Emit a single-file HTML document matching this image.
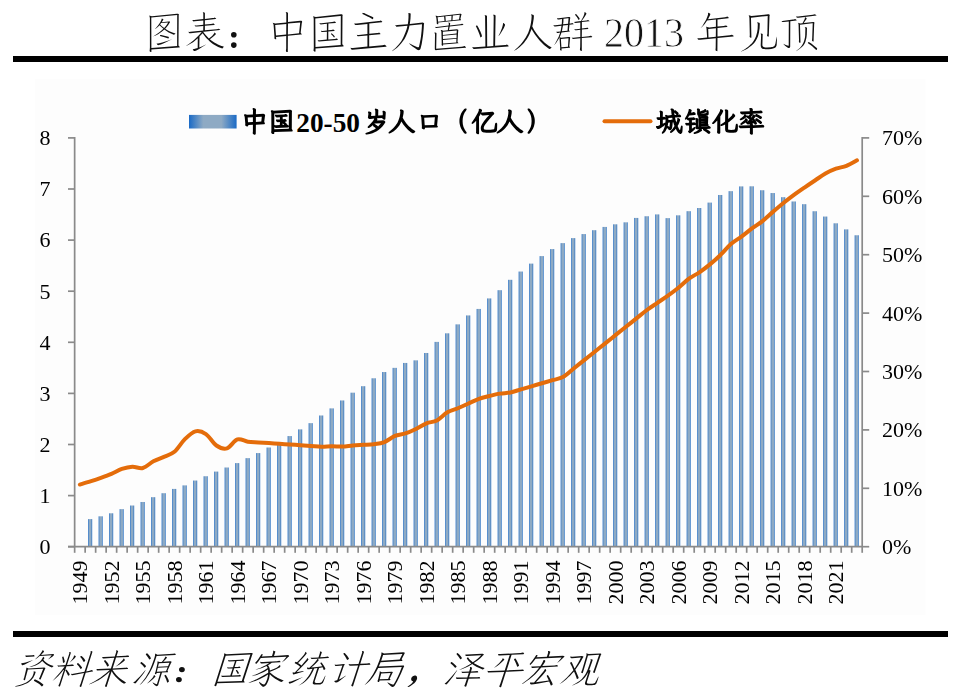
<!DOCTYPE html><html><head><meta charset="utf-8"><style>html,body{margin:0;padding:0;background:#fff;}svg{display:block;}</style></head><body>
<svg width="960" height="694" viewBox="0 0 960 694">
<defs><linearGradient id="bg" x1="0" x2="1" y1="0" y2="0"><stop offset="0" stop-color="#1f6dc8"/><stop offset="0.3" stop-color="#8eaac4"/><stop offset="0.7" stop-color="#8eaac4"/><stop offset="1" stop-color="#1f6cc4"/></linearGradient>
<filter id="gray" x="-5%" y="-5%" width="110%" height="110%"><feColorMatrix type="saturate" values="0"/></filter><linearGradient id="lg" x1="0" x2="1" y1="0" y2="0"><stop offset="0" stop-color="#1a6ac6"/><stop offset="0.3" stop-color="#8eaac4"/><stop offset="0.68" stop-color="#8eaac4"/><stop offset="1" stop-color="#1a6ac6"/></linearGradient></defs>
<rect width="960" height="694" fill="#fff"/>
<rect x="35" y="79" width="890.6" height="535.8" fill="#fdfdfd"/>
<rect x="13" y="56" width="935" height="6" fill="#000"/>
<rect x="13" y="631" width="935" height="6" fill="#000"/>
<path fill="#111" d="M149.1,15.5 149.4,16.1 149.6,16.7 149.8,17.4 149.9,18.2 149.9,47.6 149.8,49 149.6,50.9 149.7,51.2 149.9,51.5 150.3,51.8 150.6,51.9 151,52 151.3,51.9 151.4,51.5 151.4,49.4 179,47.4 179.9,47.2 179.9,47 179.6,46.7 178.5,45.4 178.7,15.7 178.7,15.3 179,14.7 178.7,14.3 178.4,14 178,13.8 177.5,13.8 176.9,13.8 151.9,16.2 150,15.7ZM151.4,48 151.3,17.5 177.2,15 177.1,46ZM153.1,36.5 154.4,36.1 155.6,35.5 158.1,34.2 160.5,32.6 161.7,31.7 164.3,29.6 166.5,31.1 168.7,32.4 171,33.5 173.2,34.5 173.7,34.7 174.2,34.6 174.9,34.2 175.5,33.6 172.4,32.5 169.9,31.4 167.5,30.2 165.2,28.8 166.7,27 168.3,24.9 169.6,22.8 170.1,22.3 170.1,21.9 169.9,21.6 169.6,21.5 169.2,21.4 168.6,21.4 161.7,22.2 163,20.3 163.2,19.8 163.4,19.3 163.3,19.1 163,18.9 161.8,18.4 161.6,19.2 161.3,20.2 160.8,21.3 160.1,22.5 158.9,24.3 157.8,25.8 156.1,27.8 155,29 154.8,29.3 155.6,28.8 156.9,27.8 158.1,26.7 159.5,25.2 161.4,27.1 163.4,28.8 161.2,30.8 159,32.6 156.5,34.3 153.5,36.2ZM168.2,22.5 166.8,24.7 165.9,26 164.2,28.1 161.9,26.2 160.1,24.4 161.1,23.1ZM156.6,43.5 157,44.2 157.6,44.9 158.2,45.2 158.8,45.1 160.9,44.4 164.4,42.9 170.5,40.1 172.2,39.3 166.3,41.2 162.2,42.4 159.1,43.2 158,43.4ZM168.3,38.4 168.6,38.2 168.7,37.9 168.9,37.3 168.8,37.1 168.4,36.8 164.2,35.7 161.2,35 160.3,34.9 160.2,35 160.1,35.3 159.9,35.9 160,36 164.5,37.2ZM185.8,46 187.1,45.5 188.6,44.8 191.7,43.1 193.1,42.2 194.6,41 197.8,38.3 197.7,48.1 194.1,49.1 192.7,49.3 193.2,50.1 193.8,50.9 194.2,51.1 194.6,51.1 195.8,50.7 196.9,50.2 199.1,49 201.4,47.6 203.8,46.1 205.4,44.9 205.9,44.4 202.4,46.2 199.3,47.4 199.5,36.8 199.5,36.6 202.6,33.3 203,33.8 204.3,35.6 205.6,37.2 207,38.7 208.4,40.1 209.8,41.5 211.3,42.7 212.9,43.9 214.6,45 216.4,46 218.2,46.9 220.2,47.7 222.3,48.5 222.6,48.3 223.1,47.7 223.8,46.6 221.5,45.9 219.6,45.2 217.9,44.4 216.2,43.6 214.7,42.8 213.2,41.8 211.7,40.8 210.4,39.7 209.9,39.2 211.9,37.8 213.4,36.6 215.1,35.1 215.8,34.2 215.9,34.1 215.8,33.7 215.2,32.9 214.9,32.6 214.6,32.4 214.2,33.2 213.7,34 213.1,34.8 212.1,35.9 210.5,37.3 209.3,38.3 208.9,38.5 205.9,35.3 204.6,33.8 203.1,31.8 204.1,31.8 219.8,30.1 220.3,30 220.2,29.7 219.9,29.4 219.2,28.9 218.7,28.7 217.9,28.9 216.6,29.2 204.9,30.3 204.9,25.8 214.1,24.9 214.7,24.7 214.6,24.4 214.3,24.1 213.6,23.6 213.1,23.4 212.2,23.7 210.9,23.9 204.9,24.5 204.9,20.2 215.7,19.1 216.2,18.9 216,18.5 215.4,18 214.6,17.6 213.8,17.9 212.5,18.1 204.9,18.9 204.9,12.9 204.7,12.7 204.3,12.5 203.3,12.2 202.8,12.1 203.1,13 203.3,13.8 203.3,19.1 194.3,20.1 193.8,20.1 192.3,20 192.6,20.6 193,21.1 193.2,21.3 193.7,21.4 194.6,21.3 203.3,20.4 203.3,24.7 196.6,25.4 196,25.4 194.5,25.3 195.4,26.6 195.9,26.6 197.3,26.6 203.3,26 203.2,30.5 190.4,31.8 189.8,31.9 188.3,31.7 188.8,32.5 189.1,33 189.4,33.2 189.8,33.2 190.7,33.2 201.7,32 200.9,33 199.3,34.8 197.6,36.5 195.8,38.2 194,39.9 192.1,41.5 190.2,43 188.1,44.5ZM272.7,22.8 273.3,24 273.6,25.1 274.4,35.9 274.4,38.3 274.6,38.7 274.9,39 275.5,39.2 275.9,39.2 276.2,39.2 276.2,38.8 276,37 286.2,36.1 286.2,48.2 285.9,51 286.1,51.5 286.6,51.9 287.2,52 287.7,52 287.8,51.9 287.8,51.4 287.9,35.8 300.9,34.6 301.8,34.5 301.8,34.3 301.6,33.9 300.7,32.8 300.7,32.5 301.8,22.9 302.2,22 302,21.3 301.8,21 301.4,20.8 301,20.7 300.3,20.7 288,22.1 288,13 287.9,12.7 287.5,12.5 286.9,12.3 285.7,12.1 286.2,13.2 286.3,14.1 286.3,22.4 275.3,23.6 273.5,23ZM288,23.6 300.2,22.4 299.1,32.9 299.1,33.3 287.9,34.4ZM275.2,25.1 286.3,23.9 286.2,34.6 276,35.5ZM313,16.3 313.5,17.4 313.6,17.9 313.7,18.9 313.8,47.4 313.7,48.8 313.5,50.3 313.6,50.8 313.8,51.1 314.3,51.5 315.2,51.7 315.4,51.6 315.5,51.1 315.5,48.4 342.8,46.4 343.7,46.3 343.7,46 343.6,45.7 343,45 342.3,44.3 342.5,16.1 342.7,15.2 342.4,14.6 342.1,14.4 341.7,14.2 340.8,14.2 315.9,17 315.8,17 313.9,16.4ZM340.8,15.9 340.7,44.9 315.5,46.9 315.3,18.4 340.2,15.9ZM317.7,40.2 318,40.9 318.4,41.3 318.7,41.4 319.2,41.5 337.4,39.9 337.8,39.7 337.8,39.4 337.5,39 336.9,38.6 336.4,38.4 335,38.9 334.4,39 328.3,39.5 328.3,31.5 334.2,31 334.6,30.8 334.5,30.4 334.3,30.1 333.6,29.7 333.2,29.5 332.3,29.8 331.5,30 328.3,30.3 328.4,23.6 335.5,22.9 335.9,22.8 336,22.7 335.9,22.5 335.4,21.9 334.9,21.5 334.5,21.4 333.3,21.8 332.1,22.1 321.5,23.2 320.2,23.3 319.4,23.1 319.7,23.7 320.1,24.1 320.3,24.3 320.6,24.4 326.9,23.8 326.9,30.5 322.7,31 320.9,30.8 321.1,31.3 321.4,31.7 321.8,32 322.3,32.1 326.9,31.7 326.8,39.6 319.7,40.3 318.5,40.3ZM330.9,33.9 332.9,36 334,37.4 334.1,37.5 334.4,37.2 334.8,36.7 334.6,36.2 333.8,35.3 332.5,34 331.7,33.4 331.5,33.3 331.3,33.3 331.2,33.4ZM350.5,47.7 351,49 351.3,49.4 351.7,49.6 351.9,49.7 352.5,49.7 386,46.8 386.5,46.6 386.5,46.3 386,45.8 385.5,45.3 384.6,44.8 383.6,45.1 382.4,45.3 369.2,46.5 369.2,35.2 380.1,34.2 380.6,34.1 380.4,33.7 379.9,33.2 379.4,32.8 379,32.6 378.2,32.9 377,33.1 369.3,33.8 369.3,23.6 381.8,22.3 382.3,22.1 382.3,21.9 382.1,21.6 381.2,20.8 380.6,20.6 379.5,20.9 378.4,21.1 356.6,23.5 355.1,23.6 354.2,23.4 354.5,24.2 354.8,24.6 355.3,25 355.8,25 357.4,24.9 367.4,23.9 367.4,34 358.8,34.9 357.7,34.9 356.8,34.8 357.1,35.5 357.4,35.9 357.8,36.2 358.3,36.3 367.4,35.5 367.4,46.6 352.9,47.9 351.7,47.9ZM373.1,17.3 371.6,16.5 369.3,15.4 366,13.9 364.1,13.1 363.3,12.9 362.9,12.8 362.7,13 362.4,13.4 362.4,13.9 362.5,14.1 365.1,15.2 367.5,16.4 369.8,17.6 372.2,19.1 372.5,19.2 372.7,19.2 372.9,18.9 373.2,18.5 373.3,18 373.3,17.6ZM391.5,51.4 392.9,50.7 394.3,49.8 396.1,48.4 397.6,47.2 399.5,45.3 401.3,43.3 403,41.1 404.5,38.9 405.8,36.5 406.9,34 407.9,31.4 408.8,28.7 409.5,25.5 422,24.3 421.8,27.8 421.6,30.8 421,36.4 420.6,39 420.1,41.6 419.6,44.1 419,46.7 418.8,47 418.6,47.2 418.2,47.3 418,47.3 417.5,47.2 413.5,45.4 409.7,43.4 409,43.2 409.2,43.5 410.1,44.4 412.5,46.4 414.8,48.1 417.2,49.8 418,50.1 418.7,50.2 419.3,50 419.8,49.7 420.4,49 420.7,48.1 421.7,43.9 422.5,39.1 423.1,34.9 423.4,31.8 423.7,28.4 423.9,24.7 424.1,23.7 424.1,23.4 424,23.2 423.7,22.9 423.3,22.7 422.7,22.6 409.8,23.9 410.2,21 410.5,18.6 410.6,16.2 410.7,13.8 410.6,13.6 409.9,13.3 408.9,12.9 408.2,12.9 408.5,13.6 408.5,14.2 408.5,17.3 408.3,20.5 408,22.7 407.8,24.2 397.4,25.1 396.2,25.2 395.2,25 395.6,25.7 396,26.3 396.3,26.7 396.7,26.8 407.4,25.8 407.3,26.4 406.6,29.2 405.2,33.1 403.5,37 402.5,38.9 401.4,40.9 400.1,42.7 398.7,44.5 397.1,46.2 395.5,47.9 393.7,49.5ZM434.4,32.4 434.8,33.5 435,34.4 434.8,48.6 434.9,49.6 435.1,49.9 435.3,50.1 435.9,50.2 437,50 465.6,47.7 466.1,47.6 465.7,47 465.2,46.5 464.7,46.1 464.4,46 463,46.4 461.5,46.7 436.2,48.7 436.5,33.4 436.4,33 436.1,32.8 435.1,32.5ZM435,26.8 435.3,27.3 435.6,27.7 436,27.9 436.4,27.9 448.4,26.6 447.8,30.2 443.3,30.7 441.6,30.1 441,29.9 440.7,29.9 441.2,31.1 441.4,32.2 441.7,42.2 441.7,43.5 441.6,44.8 441.6,45.1 442,45.4 442.6,45.7 442.9,45.7 443.1,45.6 443.1,44.6 458,43.3 458.5,43.2 458.2,42.7 457.5,41.9 458.2,30.8 458.4,30.1 458.3,30 457.9,29.5 457.4,29.4 456.9,29.3 449,30.1 449.7,26.5 463.1,24.9 463.4,24.8 463.1,24.3 462.6,23.9 462.4,23.8 462,23.7 461.2,24 460.3,24.2 449.9,25.4 450.2,23.4 450,23.1 449.3,22.8 448.8,22.6 448.4,22.6 448.7,23.3 448.8,23.9 448.8,24.6 448.6,25.5 436.6,26.9 435.7,26.9ZM442.9,34.9 442.9,31.7 456.8,30.4 456.6,33.5ZM443,39.1 442.9,35.7 456.6,34.4 456.5,37.9ZM443.1,43.6 443,40 456.4,38.7 456.3,42.5ZM435.4,15.7 435.9,16.6 436.3,17.7 436.7,21.6 436.7,23.4 436.9,23.7 437.2,24.1 437.5,24.2 437.9,24.2 438.2,24.2 438.3,24 438.2,22.6 460.6,20.2 461.2,20.1 460.4,18.9 461.3,15.1 461.6,14.4 461.3,14.1 460.8,13.8 460.4,13.7 460,13.7 438,16.2 436.2,15.8ZM459,19.5 452.5,20.2 452.8,15.5 459.8,14.7ZM451.3,20.3 445.8,20.9 445.4,16.3 451.5,15.7ZM444.5,21.1 438.2,21.8 437.6,17.3 444.1,16.5ZM472.3,47.1 472.7,48 473.1,48.5 473.3,48.7 473.8,49 474.4,49 508.1,46.5 508.7,46.3 508.6,45.9 508.3,45.5 507.3,44.7 506.9,44.5 505.8,44.9 505,45.1 495.1,45.8 495.6,15.8 495.5,15.5 495.3,15.2 494.9,15 494.3,14.8 493.5,14.7 493,14.7 493.5,15.5 493.7,16.4 493.3,45.9 487.2,46.4 487,16.2 486.8,15.8 486.5,15.6 485.6,15.3 484.6,15.2 484.5,15.2 485,16 485.1,16.9 485.4,46.5 474.8,47.2 473.5,47.2ZM498.4,36.1 499.1,35.5 499.9,34.6 501.2,32.6 503.6,28.5 504.3,27.1 504.8,25.8 505.1,24.9 505,24.5 504.6,24.1 504,23.5 503.4,23.1 503,22.9 503,22.9 503,24 502.7,25.4 502,28 500.1,32.7 499.2,34.5ZM475.8,26.1 477.7,30.1 478.7,32.4 479.6,34.7 480.3,37 480.6,37.4 480.9,37.3 481.2,37.1 481.8,36.6 482,36.4 482,36.2 481.5,34.2 480.4,31.6 478.8,28.3 478,26.7 477.4,25.8 477,25.4 476.9,25.4 476.5,25.6ZM513.8,50.9 515.6,50 516.6,49.4 518.5,48 519.5,47.2 521.6,45.2 522.7,44.2 524.1,42.7 525.3,41.1 526.5,39.5 527.6,37.8 528.6,35.9 529.6,34 530.4,32.1 531.6,28.9 532.1,29.9 534.1,33.2 535.1,34.8 537.4,37.8 539.8,40.7 542,43 544,44.9 546.6,47.1 548.2,48.3 549.4,49 550,48.9 550.5,48.6 551.1,48.1 551.7,47.5 548.6,45.7 547.3,44.8 544.7,42.7 542.2,40.3 539.6,37.5 537.2,34.6 535.1,31.5 534.1,29.9 532.3,26.6 532.3,26.3 532.9,23.7 533.3,21.2 533.7,18.7 533.9,16.1 533.8,15.6 533.7,15.3 533,14.8 531.9,14.4 531.3,14.3 531,14.3 531.5,15.4 531.6,16.1 531.6,16.8 531.4,19.7 531,22.5 530.5,25.2 529.8,27.9 529,30.4 528.1,32.9 526.9,35.2 525.7,37.5 524.5,39.3 523.3,41.1 522,42.8 520.6,44.4 519.1,46 517.6,47.6 515.9,49.1ZM571.8,37.6 572,38 572.5,38.7 572.7,38.8 573.1,38.9 580.3,38.3 580.2,46.6 580.1,47.8 579.9,49.7 580.2,50.2 580.7,50.8 581.2,51 581.6,51 581.8,50.9 581.8,50.3 581.8,38.1 591.8,37.2 592.3,37 592.2,36.7 591.7,36.2 591.1,35.8 590.7,35.7 589.6,36 588.8,36.2 581.8,36.9 581.9,29.6 588.1,29 588.5,28.9 588.2,28.4 587.8,28 587.5,27.7 587.2,27.6 586.9,27.7 586.1,28 585.6,28.1 581.9,28.5 581.9,22.1 589.1,21.3 589.6,21.2 589.5,21 589.2,20.7 588.5,20.2 588,19.9 587.3,20.2 586.7,20.4 581.5,21.1 582.9,19.3 584,17.8 585,16.3 586.3,14 586.4,13.5 586.3,13.3 585.8,12.8 585,12.3 584.5,12.1 584.4,13.2 584.2,14.3 583.7,15.8 582.9,17.6 580.9,21.1 575.4,21.8 574.8,21.9 573.9,21.7 574.2,22.3 574.4,22.6 574.8,22.8 575.4,22.9 580.3,22.4 580.3,28.7 576.2,29.2 575,29.2 574.3,29.1 574.5,29.5 574.9,29.9 575.2,30.2 575.5,30.3 576.6,30.2 580.3,29.8 580.3,37 573.6,37.7 572.4,37.7ZM575.9,14 575.2,14.4 575,14.6 575,14.8 576,15.9 576.8,17 577.6,18.3 578.5,19.8 578.6,19.9 578.7,19.9 579.1,19.7 579.4,19.3 579.7,18.9 579.7,18.7 579,17.6 577.8,16 576.6,14.5ZM553.9,45.4 555.2,44 556.4,42.5 557.5,40.8 559.5,37.6 559.6,37.6 559.6,39.3 560.2,48.1 560,49.9 560.1,50.1 560.3,50.3 561,50.6 561.3,50.7 561.5,50.6 561.6,50.2 561.5,48.4 569.6,47.7 570.2,47.6 570,47.2 569.3,46.2 570,38.7 570.2,37.7 570,37.3 569.7,37.1 569.4,37 568.6,37 561.2,37.8 559.6,37.3 560.6,35 561.5,32.5 569.9,31.6 569.6,31.1 568.9,30.3 569.5,24.7 573.3,24.3 573.7,24.2 573.6,24 573.4,23.7 572.7,23.2 572.3,23 570.9,23.4 569.6,23.6 570.1,18.7 570.3,17.9 570.2,17.6 569.7,17.1 569.2,17 568.7,17 558.7,18.3 557.6,18.3 556.9,18.2 557.5,19.2 557.7,19.4 557.9,19.4 559,19.4 562,19.1 561.9,21.9 561.8,23.6 561.6,24.6 555.2,25.3 554.1,25.3 553.4,25.2 553.6,25.7 553.9,26.1 554.2,26.3 554.5,26.4 555.5,26.4 561.5,25.7 561,29.1 560.5,31.5 557.5,31.8 556.8,31.8 556.2,31.7 556.5,32.2 557.1,32.9 558.4,32.9 560.1,32.6 559.9,33.4 559.3,35.1 558.7,36.7 557.9,38.3 556,42ZM563.5,18.8 568,18.3 568.6,18.3 568.5,18.8 568.1,23.3 568.1,23.8 563.1,24.3 563.4,22ZM568.5,38.3 568,46.7 561.4,47.2 560.9,39ZM567.9,25.6 567.5,30.8 561.9,31.3 563,25.5 568,25ZM697.3,38.2 697.6,38.8 698,39.4 698.5,39.7 699.1,39.8 700.4,39.7 715.8,38.2 715.7,47.2 715.5,50.1 715.7,50.5 716,50.8 716.7,51.1 717.3,51.2 717.4,51 717.4,50.8 717.5,38 733.2,36.4 733.7,36.2 733.6,35.9 733.3,35.6 732.4,35 731.9,34.7 730.8,35.1 729.7,35.3 717.5,36.5 717.5,28 727,27 727.5,26.9 727.3,26.5 726.8,26 726.3,25.6 725.9,25.4 724.6,25.7 723.7,25.9 717.5,26.6 717.5,19.4 728.3,18.2 728.9,18.1 728.7,17.8 728.1,17 727.6,16.7 727.4,16.6 726,17 724.9,17.2 708,19.2 709.9,15.4 710.4,14.1 710.2,13.8 709.8,13.5 709.1,13.1 708,12.8 708.1,14 707.9,14.9 707.3,16.7 706.2,19.4 705.5,20.7 703.8,23.6 702.9,25.2 700.6,28.3 702.7,26.3 704.1,24.7 705.6,22.8 707.1,20.6 715.9,19.6 715.9,26.8 709.2,27.6 707.1,27 706.5,26.8 706.1,26.8 706.3,27.5 706.4,28.1 706.6,29.7 707.1,37.6 699.7,38.3 698.5,38.3ZM708.5,37.4 708.2,29 715.9,28.2 715.8,36.7ZM760.5,33.4 760.8,33.8 760.9,34.2 761.1,35.2 760.7,45.3 760.8,46.1 760.9,46.7 761.1,47.3 761.3,47.7 761.6,48.1 762,48.4 762.4,48.7 763.2,49 764.1,49.1 765.5,49.2 768.8,49.2 771.1,48.9 773.1,48.6 774.5,48.1 775,47.8 775.7,47.3 776.1,46.6 776.4,46 776.6,45.3 776.7,44.4 776.8,42.4 776.9,39.9 776.8,38.2 776.7,36.6 776.4,37.7 775.8,41.6 775.4,43.7 775.1,44.5 774.8,45.3 774.4,45.9 774.1,46.2 773.5,46.5 772.6,46.9 771.7,47.1 770.8,47.2 767,47.4 765.3,47.4 764.4,47.2 763.6,47 763,46.6 762.6,46 762.4,45.2 762.4,44.6 762.7,34.4 762.7,34.1 762.6,33.9 762.1,33.7 761.1,33.5ZM748.7,15.3 749.2,16.8 749.4,17.9 749.8,34.9 749.6,36.8 749.7,37 749.9,37.3 750.3,37.6 750.7,37.8 751.2,37.8 751.3,37.7 751.4,37.6 751.4,36.7 751,17.7 767.7,15.9 767.4,33.6 767,35.5 767.1,35.7 767.2,36 767.7,36.4 768.3,36.6 768.5,36.7 768.7,36.6 768.8,36.2 768.8,35.6 769.5,16 769.7,15.4 769.8,15.1 769.7,14.9 769.6,14.8 769.2,14.5 768.9,14.3 768.1,14.3 751.5,16.1 749.7,15.4 748.9,15.3ZM740.6,51.6 741.4,51.4 742.5,50.9 745.9,49.4 747.7,48.4 749.5,47.1 751.3,45.7 753.2,43.9 754.2,42.9 755.1,41.7 755.9,40.6 756.6,39.3 757.2,38.1 757.8,36.8 758.2,35.4 759,32.2 759.6,28.2 759.8,23.7 759.7,23.3 759.3,22.8 758.3,22.4 757.5,22.2 757.1,22.2 757.6,23.3 757.7,23.9 757.8,24.5 757.7,26.8 757.6,28.9 757.2,31.7 756.5,34.6 755.9,36.6 755,38.5 753.9,40.4 752.7,42.2 751.7,43.4 750.5,44.6 749.3,45.8 747.9,47 746.4,48.1 744.8,49.2 743,50.2 740.9,51.4ZM808.7,42 808.3,42.3 807.9,42.8 807.8,43 808,43.3 810.2,44.8 812.2,46.3 814,48 816.2,50 816.3,50.1 816.4,50.1 816.9,49.5 817.2,48.9 817.1,48.5 816.8,48.1 814.6,46.2 811.3,43.6 809.6,42.4 809.2,42.2ZM796,16.6 796.4,17.3 796.8,17.6 797.2,17.8 797.9,17.8 798.7,17.8 804.8,17 816.5,15.6 816.4,15.3 816.1,15 815.3,14.4 814.9,14.2 813.8,14.6 812.9,14.8 798.1,16.6 797.1,16.6ZM804.9,17.1 804.9,18.2 804.5,19.5 804.2,20.1 802.5,23.2 800.4,23.5 798.8,22.9 798.1,22.7 798.5,23.9 798.6,25.7 799,39.4 798.9,41.9 799,42.2 799.2,42.5 799.8,42.7 800.3,42.7 800.4,42.6 800.5,42.4 800,24.7 812.2,23.3 812.7,23.3 812.7,23.8 812.2,38.1 812,40.6 812.2,41 812.6,41.3 813.3,41.5 813.5,41.5 813.6,41.4 813.7,37.1 814.2,23.7 814.5,23 814.5,22.8 814.3,22.5 813.9,22.1 813.6,22 813.3,22 803.7,23.1 805.8,20.1 806.4,19.2 806.7,18.6 806.7,18.5 806.6,18.3 806.4,18ZM795.5,51.4 797.2,50.5 798.7,49.6 800.1,48.6 801.3,47.6 802.4,46.5 803.4,45.4 804.2,44.2 804.9,43 805.4,41.7 805.8,40.3 806.2,38.8 806.5,37.3 806.8,34.5 806.9,30.9 807,27.9 807,27.7 806.8,27.6 805.6,27.2 804.8,27.1 805.2,27.9 805.4,28.5 805.3,31.6 805.2,35.3 805,37.2 804.5,39.5 803.9,41.6 803.4,42.8 802.5,44.5 801.9,45.5 801.1,46.5 800.3,47.4 799.3,48.4 798.3,49.3ZM781.6,20.9 781.8,21.5 782.1,21.8 782.4,22 782.8,22.1 783.6,22.1 788.8,21.5 788.7,45.8 787.3,45.5 785.9,45 783.2,43.8 784.8,45.4 786.7,47 787.5,47.6 788.2,47.9 788.6,48.1 789,48.1 789.5,47.9 789.8,47.5 790.1,47 790.2,46.4 790.3,21.2 796.3,20.5 796.6,20.4 796.7,20.3 796.4,19.9 796.1,19.6 795.6,19.2 795,19 793.9,19.4 793,19.6 782.3,20.9Z"/>
<circle cx="233.8" cy="34.7" r="2.8" fill="#111"/><circle cx="233.8" cy="45.1" r="2.8" fill="#111"/>
<text x="604" y="47.3" font-family="Liberation Serif" font-size="42" fill="#111" stroke="#fff" stroke-width="0.8" textLength="80" lengthAdjust="spacingAndGlyphs" filter="url(#gray)">2013</text>
<rect x="189" y="114.9" width="47.6" height="13.6" fill="url(#lg)"/>
<path fill="#000" d="M252.9,131.3 252.7,133.3 252.9,133.7 253.2,134.1 253.8,134.5 254.4,134.7 254.9,134.7 255.4,134.5 255.7,134.1 255.8,133.4 255.9,124.7 263.9,124.3 264.4,124.2 264.6,124 264.8,123.8 264.9,123.3 264.9,123 264.7,122.7 264.2,121.9 264.9,116.4 265.1,115.7 265.1,115.2 264.8,114.6 264.4,114.2 264.2,114 263.9,113.9 263.4,113.8 255.9,114.3 256,109.7 255.9,109.2 255.5,108.7 255.1,108.4 254.4,108.2 253.5,108 253.2,108.1 252.9,108.2 252.7,108.3 252.6,108.7 252.6,109.1 252.9,109.9 253,110.2 252.9,114.4 247,114.8 245.6,114.3 244.8,114.3 244.5,114.3 244.2,114.6 244.1,115.1 244.1,115.5 244.5,116.3 244.7,116.9 245.3,123.4 245.2,125 245.3,125.4 245.5,125.7 245.9,126 246.5,126.3 246.9,126.4 247.4,126.4 247.8,126.2 248.1,125.9 248.3,125.5 248.3,125 252.9,124.8ZM261.8,116.7 261.3,121.6 255.9,121.9 255.9,117.1ZM252.9,117.2 252.9,122 248,122.2 247.7,117.6ZM291.2,131.6 292,131.6 292.3,131.5 292.6,131.1 292.7,130.7 292.6,130.3 292.5,129.9 291.8,129 291.9,112 292,111.7 292,111.4 291.9,110.8 291.6,110.4 291.3,110.1 290.9,109.9 290.4,109.8 289.8,109.8 273.8,110.7 272.5,110.3 271.9,110.2 271.4,110.2 271.1,110.4 270.9,110.7 270.8,111 270.9,111.4 271.2,112.2 271.3,112.9 271.4,130.2 271.3,131.1 271.2,132.2 271.3,132.9 271.6,133.3 272,133.7 272.6,133.9 273.2,134.1 273.7,134 274.1,133.7 274.3,133.2 274.3,132ZM274.3,125.2 274.3,113.4 288.9,112.7 288.8,126.2 288.5,125.6 288.1,125.1 287.5,124.7 286.9,124.6 286.9,124.2 286.6,123.6 285.9,122.9 284.8,121.8 285.6,121.8 286,121.7 286.4,121.5 286.5,121.4 286.7,121 286.7,120.7 286.6,120.3 286.4,119.9 285.7,119.3 285.3,119.1 285,119 284.6,119 283.7,119.3 282.7,119.3 282.7,117.1 286.6,116.8 287.2,116.7 287.5,116.3 287.6,116.1 287.6,115.8 287.5,115.4 287.4,115.1 287,114.7 286.5,114.3 286.2,114.1 285.8,114.1 285.4,114.1 284.1,114.4 277.3,114.8 276.6,114.7 275.7,114.6 275.5,114.7 275.2,114.8 275,115.3 275,115.8 275.5,116.6 275.7,116.9 276.1,117.2 276.4,117.3 276.8,117.4 279.9,117.2 279.9,119.5 278,119.6 276.5,119.4 276.1,119.6 275.9,119.9 275.9,120.2 276.1,120.8 276.3,121.3 276.7,121.8 277.1,122 277.8,122.2 279.9,122.1 279.8,125.1 276.1,125.3 275.4,125.2 274.7,125.1ZM282.7,122 282.7,122 282.7,122ZM282.7,123.2 283.8,124.4 284.3,125 282.6,125ZM288.8,126.6 288.8,128.8 274.3,129.2 274.3,127.1 274.7,127.5 275,127.7 275.4,127.8 276,127.9 287.7,127.4 288.1,127.3 288.5,127.1 288.6,127ZM373.1,125.1 373,125.7 373.2,126.2 375.9,128.3 374.3,129.4 371.9,130.6 369.3,131.7 366.4,132.7 365.9,132.9 365.6,133.2 365.4,133.5 365.4,133.9 365.7,134.3 366.1,134.5 366.8,134.6 369.8,134 372.5,133.2 375.1,132.1 376.3,131.4 378.5,130 380.6,128.3 382.4,126.4 384.1,124.3 385.2,122.6 385.4,122 385.3,121.8 385.1,121.4 384.7,120.9 384.2,120.6 383.7,120.4 383.3,120.3 377,120.6 377.3,120 377.4,119.5 377.3,119 376.9,118.3 382.3,117.9 382.3,118.3 382.5,118.8 382.7,119 383.1,119.3 383.7,119.6 384.3,119.7 384.6,119.7 385,119.5 385.3,119.2 385.4,118.8 385.8,112.4 385.6,111.9 385.3,111.5 384.5,111 383.5,110.7 383,110.7 382.7,110.9 382.6,111.1 382.5,111.4 382.5,111.6 382.7,112.4 382.8,113.2 382.7,115.2 378.2,115.5 378.3,110.2 378.3,110 378,109.5 377.7,109.3 377.2,109 376.1,108.7 375.6,108.6 375.3,108.7 375,108.8 374.9,109 374.8,109.4 374.9,109.8 375.2,110.5 375.3,110.8 375.3,115.7 371.1,116 371.4,113 371.3,112.7 371.2,112.4 370.9,112.1 370.6,111.9 369.4,111.4 368.9,111.4 368.5,111.4 368.1,111.7 368,112 368,112.3 368.3,113.2 368.4,113.9 368.1,116.1 367.9,117.4 368,118 368.2,118.3 368.5,118.6 368.9,118.8 369.3,119 369.7,119.1 370.6,118.9 374.1,118.6 374,119.2 373.8,119.8 372.8,121.3 370.8,123.6 367.9,126.4 367.6,127 367.7,127.5 367.9,127.8 368.2,127.9 368.5,128 369,127.9 369.9,127.4 371.3,126.5ZM374.3,124 374.8,123.5 381,123.2 379.8,124.6 378.1,126.4 377.1,125.5 375.9,124.7 374.9,124.1 374.6,124ZM401.4,121.6 403.3,124.4 405.6,127.2 408.1,129.9 409.4,131.1 410.8,132.2 412.1,133.1 412.5,133.3 412.8,133.3 413.3,133.3 413.8,133 414.5,132.6 415,132.2 415.2,131.8 415.3,131.5 415.2,131.3 415.1,131 414.7,130.7 413.2,129.8 412,129 410.4,127.6 409.1,126.5 407.9,125.2 406.4,123.4 405,121.5 403.7,119.6 402.7,117.8 403.1,115.8 403.5,113.7 403.7,111.6 403.6,110.9 403.3,110.3 402.7,109.9 401.8,109.6 400.9,109.4 400.5,109.4 400.2,109.6 400.1,109.7 399.9,110.1 399.9,110.5 400.3,111.3 400.3,111.8 400.2,113.7 399.9,115.4 399.6,117.1 399.1,118.6 398.6,120.1 397.7,122.2 397,123.4 396.2,124.6 395.4,125.7 394.1,127.3 393.2,128.3 391.8,129.6 389.2,131.7 388.8,132.1 388.6,132.4 388.5,132.7 388.6,133.1 388.8,133.4 389.2,133.5 389.6,133.5 390.7,133.1 391.7,132.5 393.8,131.2 394.9,130.3 396.1,129.3 397.7,127.6 399.3,125.5 400.3,123.8ZM421.9,126.4 421.8,128.1 421.9,128.4 422.2,128.7 422.9,129.1 423.9,129.4 424.3,129.3 424.5,129.2 424.8,128.9 424.9,128.5 424.9,127.8 436.4,127.5 437.1,127.4 437.5,127.3 437.8,126.9 437.8,126.4 437.6,126 437.1,125.4 437.9,116.8 438.1,116.3 438.1,116 437.9,115.6 437.6,115.3 437.2,115 436.9,114.9 436.3,114.8 423.6,115.3 422.5,114.9 421.8,114.8 421.3,114.8 421,115 420.8,115.2 420.7,115.7 420.8,116 421.1,116.7 421.3,117.5ZM434.9,117.3 434.2,125 424.7,125.3 424.2,117.8ZM465.5,133.8 465.9,133.7 466.3,133.5 466.6,133.2 466.6,132.6 466.4,132.1 465.8,131.3 464.7,129.6 463.9,127.8 463.5,126.9 463,124.9 462.8,123.9 462.7,122.5 462.6,121.1 462.7,119.7 462.8,118.3 463.2,116.3 463.5,115.3 463.9,114.3 464.7,112.5 465.8,110.9 466.4,110.1 466.6,109.6 466.6,109 466.3,108.6 465.9,108.4 465.5,108.4 465.2,108.5 464.7,108.7 464,109.3 463.5,109.9 462.3,111.5 461.1,113.6 460.3,115.7 459.8,117.6 459.5,119 459.4,121.1 459.5,123.1 459.8,124.6 460.3,126.5 461.1,128.5 462.3,130.6 463.5,132.3 464,132.9 464.7,133.5 465.2,133.7ZM476.2,120.7 476.1,129.8 476.1,131.5 476,132.6 476.1,133 476.3,133.3 476.7,133.8 477.2,134 477.9,134.2 478.5,134.2 478.8,133.9 479,133.7 479.1,133.3 479,116.7 480.1,114.9 480.8,113.4 481.2,114.5 481.6,115 482,115.3 482.5,115.5 483.4,115.4 489.3,114.9 486.7,117.8 484.1,121.1 482.3,123.8 481.6,124.9 481,126.5 480.8,127.3 480.8,128.1 480.8,129 481,129.9 481.3,130.7 481.8,131.4 482.4,131.9 483.1,132.3 483.9,132.5 484.8,132.6 486.2,132.7 490.6,132.7 493.1,132.5 494.9,132.2 495.9,131.8 496.2,131.5 496.5,131.2 496.8,130.8 496.9,130.3 497,129.8 497.1,128.8 497.2,124.3 497.1,123.4 496.8,122.9 496.5,122.7 496.2,122.7 495.9,122.7 495.7,122.9 495.5,123.1 495.2,123.6 495,124.2 494.3,128.4 494,129.3 492.1,129.6 490.5,129.7 487.8,129.8 486,129.7 484.9,129.5 484.4,129.4 484.2,129.2 483.9,128.9 483.8,128.3 483.8,127.6 483.8,127.1 484.2,126.2 484.8,125.1 485.6,123.9 487.7,121.2 489.6,119 492.4,115.8 494,114.2 494.2,113.7 494.2,113.4 494.1,113.1 493.7,112.4 493.2,112 492.8,111.8 492.2,111.8 482.7,112.6 481.7,112.5 481.2,112.7 482,110.7 482,110.3 481.9,110 481.6,109.6 480.9,109.1 480,108.8 479.7,108.8 479.3,108.8 479.1,108.9 478.8,109.2 478.7,109.6 478.8,110.3 478.7,110.8 478.1,112.3 477.3,113.7 475.7,116.6 474.5,118.6 473.3,120.3 471.8,122.4 471.6,122.9 471.6,123.2 471.6,123.5 471.9,123.7 472.2,123.9 472.6,123.8 472.9,123.7 473.5,123.3 474.2,122.7ZM509.5,121.6 511.4,124.4 513.7,127.2 516.2,129.9 517.5,131.1 518.9,132.2 520.2,133.1 520.6,133.3 520.9,133.3 521.4,133.3 521.9,133 522.6,132.6 523.1,132.2 523.3,131.8 523.4,131.5 523.3,131.3 523.2,131 522.8,130.7 521.3,129.8 520.1,129 518.5,127.6 517.2,126.5 516,125.2 514.5,123.4 513.1,121.5 511.8,119.6 510.8,117.8 511.2,115.8 511.6,113.7 511.8,111.6 511.7,110.9 511.4,110.3 510.8,109.9 509.9,109.6 509,109.4 508.6,109.4 508.3,109.6 508.2,109.7 508,110.1 508,110.5 508.4,111.3 508.4,111.8 508.3,113.7 508,115.4 507.7,117.1 507.2,118.6 506.7,120.1 505.8,122.2 505.1,123.4 504.3,124.6 503.5,125.7 502.2,127.3 501.3,128.3 499.9,129.6 497.3,131.7 496.9,132.1 496.7,132.4 496.6,132.7 496.7,133.1 496.9,133.4 497.3,133.5 497.7,133.5 498.8,133.1 499.8,132.5 501.9,131.2 503,130.3 504.2,129.3 505.8,127.6 507.4,125.5 508.4,123.8ZM528.7,133.8 529,133.7 529.5,133.5 530.2,132.9 530.7,132.3 531.9,130.6 533.1,128.5 533.9,126.5 534.4,124.6 534.7,123.1 534.8,121.1 534.7,119 534.4,117.6 533.9,115.7 533.1,113.6 531.9,111.5 530.7,109.9 530.2,109.3 529.5,108.7 529,108.5 528.7,108.4 528.3,108.4 527.9,108.6 527.6,109 527.6,109.6 527.8,110.1 528.4,110.9 529.5,112.5 530.3,114.3 530.7,115.3 531,116.3 531.4,118.3 531.5,119.7 531.6,121.1 531.5,122.5 531.4,123.9 531.2,124.9 530.7,126.9 530.3,127.8 529.5,129.6 528.4,131.3 527.8,132.1 527.6,132.6 527.6,133.2 527.9,133.5 528.3,133.7ZM660,125.1 658,125.9 657.5,126 656.5,126 656.3,126.1 656,126.4 655.9,126.8 656,127.2 656.7,128.2 657.4,128.9 657.8,129.1 658.3,129.1 658.9,129 659.5,128.7 660.9,127.9 662.6,126.8 663.9,125.9 665.1,124.8 664.6,126.9 663.9,128.8 663.2,130.4 662.1,132.1 661.9,132.5 661.8,132.9 661.8,133.2 662,133.5 662.2,133.7 662.7,133.8 663.2,133.6 663.8,133.1 664.5,132.4 665.3,131.4 665.9,130.4 666.6,129 667.1,127.9 667.6,128.5 668.2,129.2 668.8,129.7 669.4,130 669.8,130.2 670.2,130.2 670.8,130 671.2,129.6 671.7,128.9 672,128.3 672.2,127.2 672.5,125 672.7,122.4 673.3,122.3 673.9,124.4 674.5,126 673.8,127.1 672.9,128.4 670.2,131.5 670,131.8 670,132.1 670,132.4 670.2,132.7 670.5,132.8 671,132.9 671.5,132.7 672.2,132.2 672.9,131.7 674,130.8 675,129.7 675.8,128.8 676.6,130.5 677.6,132 678.5,133 679.3,133.6 679.8,133.8 680.2,133.9 680.7,133.9 681.1,133.8 681.4,133.6 681.7,133.3 682,132.9 682.2,132.4 682.5,130.9 682.6,128.6 682.7,126.7 682.6,126.3 682.4,125.9 682.1,125.6 681.8,125.5 681.6,125.6 681.3,125.7 681.1,126 680.8,126.7 680,130.3 679.5,129.7 678.9,128.8 677.6,126.1 678.6,124.2 679.5,121.9 680.1,120.2 680.1,119.7 680,119.3 679.8,119 679.5,118.7 678.7,118.2 678.1,118 677.8,118 677.5,118.1 677.3,118.4 677.2,118.6 677.3,119.5 677.2,120.1 676.3,122.5 675.5,119.8 675,117.6 679.8,117.3 680.3,117.2 680.8,117 681.1,116.7 681.1,116.3 681,115.8 680.8,115.4 680.5,115 679.7,114.6 679.1,114.5 678.1,114.7 678.5,114.1 678.7,113.6 678.6,113.2 678.2,112.6 677,111.5 675.6,110.3 675.2,110.2 674.7,110.2 674.3,110.4 674.1,110.7 674,109.9 673.8,109.4 673.4,109 673,108.8 672.1,108.6 671.2,108.6 670.7,108.8 670.5,109.2 670.5,109.5 670.6,109.7 671,110.2 671.2,110.6 671.4,113.2 671.7,115.1 667.9,115.4 666.5,114.9 666,114.8 665.7,114.9 665.4,115 665.2,115.2 665.1,115.7 665.4,116.7 665.5,117.5 664.8,116.9 664.3,116.7 663.9,116.7 662.8,117 662.9,112.2 662.8,111.7 662.6,111.4 662.3,111.2 661.7,110.9 660.6,110.6 660.1,110.7 659.6,110.9 659.5,111.3 659.5,111.6 659.9,112.5 660,112.9 660,117.2 658.4,117.3 657.4,117.2 657,117.2 656.7,117.4 656.5,117.7 656.5,117.9 656.6,118.3 656.9,119.1 657.2,119.5 657.6,119.8 658.2,120 658.7,120.1 660,120ZM667.7,125.9 668,124.3 668.2,122.7 669.9,122.5 669.7,125 669.4,127 668.2,126.1ZM665.4,122.6 665,122.7 664.7,122.8 662.8,123.8 662.8,119.8 665,119.6 665.6,119.5ZM676.5,114.9 674.6,115 674.2,112.6 675.3,113.6ZM668.4,120.1 668.4,118 672.2,117.8 672.6,119.7 672.3,119.6 671.9,119.6 670.8,119.9ZM686.7,119.1 686.9,119.4 687.2,119.8 687.8,120.3 688.3,120.4 689.1,120.4 689.1,122.8 687,122.9 686,122.8 685.7,122.9 685.4,123 685.3,123.2 685.2,123.5 685.2,123.9 685.4,124.3 685.7,124.8 686,125.2 686.5,125.5 687.2,125.6 689.1,125.5 689.1,130.4 688.3,130.7 688.1,130.9 688,131.3 688.1,131.6 688.3,132.1 688.7,132.6 689.2,133.1 689.6,133.2 690.1,133.2 690.6,133 691.1,132.6 692.2,131.8 694.2,129.9 695.1,128.9 695.5,128.2 695.6,127.9 695.6,127.7 695.4,127.2 695.1,127 694.6,127 694,127.2 691.9,128.7 691.9,125.3 695,125.1 695.4,125 695.7,124.8 695.7,128 695.8,128.3 696,128.7 696.4,129 697,129.3 699,129.2 698.3,130 697.5,130.5 696.1,131.4 694.3,132.3 693.8,132.6 693.6,132.9 693.6,133.2 693.7,133.6 694,133.9 694.3,134 694.8,134 696.6,133.5 698.3,132.9 699.2,132.5 700.8,131.6 701.7,131 701.9,130.7 702,130.5 702,130.3 702,129.8 701.5,129.1 703.1,129 703,129.4 703,129.8 703.1,130.1 703.3,130.3 706,132.1 707.9,133.5 708.4,133.8 708.9,134 709.4,133.8 709.8,133.5 710.2,132.9 710.4,132.5 710.4,132.1 710.4,131.9 710,131.4 708.8,130.5 706.3,128.9 709.7,128.8 710.3,128.6 710.6,128.3 710.7,128.2 710.8,127.8 710.7,127.5 710.5,127.1 710,126.5 709.1,126 708.6,125.9 707,126.2 701.3,126.5 701.4,126.3 707.6,126 708.2,125.9 708.5,125.6 708.6,125.4 708.7,125.2 708.6,124.8 708.4,124.4 708,123.9 708.2,118.6 708.4,117.4 708.3,117 708.2,116.7 708,116.4 707.4,116 706.6,115.8 705.6,115.9 706.9,115.7 707.7,115.4 708.2,115.1 708.5,114.7 708.7,113.7 708.7,112 708.4,110.8 708.3,110.5 708,110.2 707.7,110.1 707.4,110.2 707.2,110.3 706.9,110.6 706.7,111.2 706.4,112.7 706.2,113.1 705.4,113.3 703.8,113.5 701.9,113.6 700.4,113.6 703.6,112.9 705.2,112.4 706.3,112 706.6,111.6 706.7,111.3 706.7,110.9 706.5,110.3 706,109.5 705.5,109.1 705.2,109 704.9,109.1 704.5,109.3 704.2,109.8 703.9,110 701.8,110.8 699.9,111.4 700,109.7 699.9,109.4 699.6,109 698.7,108.6 697.9,108.4 697.6,108.4 697.3,108.5 697,108.7 696.9,108.9 696.9,109.4 697.1,109.9 697.2,110.3 697.1,113.4 697.2,114.5 697.5,115.1 697.7,115.4 698,115.7 698.5,115.9 698.2,116.2 698.1,116.5 698.2,116.9 698.5,117.5 698.6,118.1 698.8,124.2 698.6,125.8 698.8,126.3 699,126.6 698.3,126.6 698.4,119.6 698.3,119 698,118.6 697.4,118.3 696.2,118 695.7,118.1 695.4,118.5 695.4,118.9 695.7,119.8 695.7,123.2 695.2,122.7 694.7,122.4 694.3,122.3 694,122.3 693.2,122.5 691.9,122.6 691.9,120.2 694.4,120 695,119.8 695.3,119.5 695.4,119.1 695.2,118.5 694.8,117.9 694.3,117.5 693.9,117.3 693.5,117.2 692.6,117.4 691.5,117.6 688.7,117.8 687.8,117.7 689.4,115.4 694.9,115 695.4,114.8 695.7,114.4 695.7,113.9 695.5,113.2 695,112.6 694.7,112.4 694.4,112.2 693.7,112.1 692.2,112.5 690.9,112.6 691.6,111.1 691.7,110.7 691.7,110.6 691.5,110.1 691,109.6 690.5,109.2 690,108.9 689.6,108.9 689.3,108.9 688.9,109.1 688.8,109.3 688.7,109.6 688.6,110.4 688.4,111.2 687.7,113.2 686.8,115.2 685.3,117.8 684.9,118.7 684.8,119 684.9,119.3 685.2,119.6 685.5,119.7 685.7,119.7 686,119.6ZM700.6,116.1 700.9,116.1 701.5,116.1 700.7,116.2ZM705.6,118.4 701.3,118.7 701.3,118.6 705.6,118.4ZM705.5,121 701.3,121.2 701.3,121.1 705.5,120.9ZM705.4,123.6 701.4,123.8 701.4,123.6 705.4,123.4ZM725.1,129.1 725.2,130.3 725.4,130.8 725.6,131.3 726.2,131.9 726.9,132.3 727.9,132.6 729.7,132.8 731.8,132.8 733.7,132.7 735.1,132.6 735.8,132.4 736.6,132 737,131.6 737.4,130.9 737.7,130.1 737.8,129.2 737.9,128 737.9,125.6 737.7,124.4 737.5,124 737.3,123.8 737,123.7 736.6,123.7 736.4,123.8 736.2,123.9 735.8,124.5 735.7,125.1 735.4,127 735.1,128.5 734.8,129.3 734.5,129.6 734.2,129.7 733.1,129.8 731.2,130 729.4,129.8 728.6,129.7 728.2,129.5 728.1,128.7 728.2,122.6 729.4,121.7 730.8,120.6 733,118.7 735,116.6 735.2,116.2 735.2,115.8 735.1,115.3 734.9,114.9 734.1,114 733.7,113.7 733.4,113.5 733.2,113.5 732.8,113.6 732.5,113.9 732.2,114.8 732.1,115.2 730.4,117 728.2,119.1 728.2,110.7 728.1,110.4 727.9,110.2 727.4,109.8 726.7,109.6 725.6,109.4 725.3,109.4 725.1,109.6 724.8,109.8 724.8,110.1 724.8,110.5 725.1,111.1 725.2,111.6 725.1,121.6 723.8,122.5 721.1,124.2 720.7,124.6 720.5,125 720.5,125.2 720.5,125.5 720.7,125.8 721,125.9 721.6,125.9 722.2,125.8 723,125.4 725.1,124.4ZM717.3,120.4 717.2,130.9 717,132 717.1,132.5 717.3,133 717.8,133.4 718.4,133.7 719.1,133.8 719.6,133.8 719.8,133.7 720.1,133.3 720.2,133.1 720.3,132.7 720.3,116.6 722.2,113.4 723.1,111.6 723.2,111.1 723.2,110.6 722.8,110.2 721.9,109.5 721.1,109.2 720.5,109.2 720.2,109.4 720.1,109.5 720,109.9 720,110.7 719.8,111.3 719.2,112.6 718.3,114.1 715.8,118 714.3,120.2 712.5,122.5 712.2,122.8 712.1,123.2 712.1,123.6 712.4,124 712.7,124.1 713,124.1 713.6,123.9 714.2,123.5 715.1,122.7ZM740.3,125.6 739.3,125.5 738.9,125.6 738.7,126 738.7,126.4 738.9,127 739.3,127.6 739.8,128 740.3,128.2 741,128.3 749.9,128 749.9,131.1 749.8,132.9 749.9,133.4 750.2,133.9 750.9,134.4 751.7,134.7 752.1,134.7 752.4,134.6 752.7,134.3 752.9,133.8 752.9,127.9 763.2,127.5 763.6,127.4 764,127.2 764.2,126.8 764.3,126.3 764.1,125.7 763.8,125.3 763.1,124.9 762.4,124.7 762.1,124.7 760.7,124.9 752.9,125.2 752.9,124.2 752.7,123.9 752.4,123.6 753.9,123.2 754.7,124.4 755,124.7 755.4,124.8 755.8,124.6 756.3,124.4 756.7,124.1 757,123.6 757,123.3 756.9,122.9 756.2,121.6 754.6,119.2 754.3,118.9 753.9,118.8 755.3,117.1 755.5,116.7 755.6,116.4 757.9,117.6 760,118.9 760.6,119 760.9,119 761.3,118.7 761.7,118.3 761.9,117.8 762,117.4 761.9,117.1 761.8,116.8 761.4,116.4 759.7,115.5 757.7,114.5 756.8,114.1 756.2,114.1 755.9,114.2 755.5,114.5 755.3,114.9 755.1,115.4 754.6,114.9 754,114.5 753.6,114.4 753.1,114.4 752.8,114.7 752.6,115 752.3,116.2 751.2,117.6 750.8,117.3 751.9,115.8 752.6,114.9 752.9,114.2 752.8,113.8 761.7,113.2 762.2,113 762.5,112.7 762.6,112.3 762.5,111.7 762.1,111.3 761.7,110.9 761.3,110.6 760.8,110.4 760.5,110.5 759.5,110.7 752.8,111.1 752.8,109.4 752.7,109.1 752.6,108.8 752.2,108.5 751.5,108.1 750.8,108 750.2,107.9 749.9,107.9 749.6,108.1 749.5,108.2 749.4,108.6 749.4,108.9 749.7,110 749.8,111.3 742.3,111.6 740.9,111.5 740.5,111.6 740.2,111.9 740.1,112.1 740.1,112.5 740.3,112.9 740.6,113.5 740.9,113.9 741.2,114.1 741.6,114.3 742.3,114.4 749.8,113.9 749.4,114.8 748.8,115.8 748.2,115.5 747.7,115.4 747.3,115.6 746.9,116 746.7,115.7 746.5,115.3 745.6,114.5 745.1,114.2 744.6,114.3 744.2,114.6 744,115.2 743.8,115.7 743.1,116.4 742.2,117.2 740.5,118.4 740.1,118.8 739.8,119.3 739.8,119.7 739.9,120 740.3,120.3 740.6,120.3 741,120.2 742.3,119.7 744,118.9 745.2,118.1 746.6,117.1 746.7,117.4 747,117.8 748.4,118.8 749.5,119.6 747.7,121.6 747.1,121.5 747.6,121.1 747.8,120.8 747.8,120.3 747.7,119.7 747.2,119 746.6,118.5 746,118.2 745.5,118.3 745.1,118.7 744.9,119.6 744.3,120.2 742.8,121.6 740.8,123.2 740.5,123.4 740.3,123.8 740.3,124.1 740.4,124.6 740.7,124.8 741,124.9 741.4,124.9 742,124.7 743.7,123.8 745.9,122.4 746.2,123.1 746.5,123.6 746.8,124 747.3,124.3 748,124.4 749.6,124.2 749.9,124.8 749.9,125.3 741.2,125.6ZM752.3,120.4 752.6,121 751.6,121.1 752.1,120.7ZM760.8,124.1 761.1,123.9 761.4,123.7 761.7,123.2 762,122.8 762,122.3 761.9,122.1 761.6,121.7 760.9,121 759.9,120.2 758.4,119.2 757.3,118.5 756.8,118.3 756.5,118.2 756.2,118.3 755.8,118.5 755.4,119 755.2,119.5 755.3,120 755.5,120.4 758,122.2 759.9,123.8 760.3,124Z"/>
<text x="296.3" y="131.6" font-family="Liberation Serif" font-weight="bold" font-size="27.3" fill="#000">20-50</text>
<line x1="604.5" y1="121.3" x2="650.5" y2="121.3" stroke="#e46c0a" stroke-width="4" stroke-linecap="round"/>
<path fill="#111" d="M34.6,659.8 35.7,659.1 37,658.3 39.7,656.1 51.7,655.3 49.7,657.7 48,659.5 49.7,658.5 52.3,656.7 53.2,655.9 53.8,655.3 54,655 54,654.7 53.7,654.3 53.5,654.1 53.2,654.1 40.9,654.9 40.9,654.9 41.8,654.2 42.1,653.8 43.6,652.3 44,651.8 44,651.4 43.6,650.8 43,650.3 42.5,650.2 42.1,651.2 41.6,652 40.6,653.5 39.7,654.7 38.5,656 37.2,657.3ZM29.2,667 31.4,666.7 33.2,666.2 35.6,665.5 37.1,664.8 38.5,664 40,663 41.4,661.8 42.3,661 43.8,662.6 44.6,663.3 46.1,664.5 47.8,665.6 50.1,666.7 51.9,667.5 52.6,667.1 53.6,666.1 50.5,664.9 48.4,663.9 47.2,663.2 45.5,662 44.4,661 43.3,659.8 44.2,658.6 44.4,658.2 44.3,657.8 44,657.5 43.5,657 43.1,656.8 43,657.3 42.1,658.8 41.2,660.2 40.1,661.4 38.7,662.6 37,663.7 36.1,664.2 34.1,665.2 31.9,666.1ZM26.2,667.8 26.3,668.7 26.1,669.6 24.2,677.4 23.5,679.3 23.5,679.6 23.7,679.8 24,680.1 24.3,680.2 24.7,680.2 24.9,680.1 25.1,680 25.1,679.8 27.9,669.5 43.2,668.7 39.9,677.1 39.1,678.6 39.2,678.9 39.5,679.2 40,679.5 40.4,679.6 40.5,679.5 40.8,679 41,678.5 44.9,669.2 45.3,668.6 45.4,668.4 45.3,668.1 45,667.8 44.7,667.7 44.4,667.6 28.6,668.4 27,667.8 26.6,667.8ZM33.9,680.6 34.2,680.9 37.6,683 39.3,684.1 40.3,685 41.3,686 41.8,686.4 42.2,686.2 42.5,686 43,685.4 43.3,684.9 43.3,684.6 43,684.3 41.7,683.2 40.4,682.2 38.5,681 35.4,679.4 34.9,679.2 34.1,680 33.9,680.3ZM15.2,686.7 18.2,686.2 19.7,685.9 21.2,685.5 22.9,685 25.1,684.1 26.5,683.4 28,682.7 29.3,681.8 30.2,681.1 31.4,680 32.4,678.8 33.4,677.5 34.1,676.1 34.8,674.7 35.6,672.3 35.7,672.1 35.7,671.9 35.1,671.6 34.6,671.5 34,671.4 33.5,671.5 33.5,671.7 33.7,672.2 33.7,672.9 33,675.1 32.5,676.3 31.9,677.2 30.6,678.9 29.6,680 28.4,681 26.2,682.4 24.5,683.3 21.3,684.5 18.8,685.3 15.9,686 15.4,686.3 15.3,686.4ZM25.5,655.3 25.5,656 25.6,656.5 25.7,656.7 26.2,656.9 34.2,656.4 34.5,656.3 34.6,656 34.5,655.7 34.3,655.5 33.7,654.9 33.2,655.1 32.6,655.2 27.1,655.5 26.1,655.5ZM21.3,663.2 21.4,663.9 21.6,664.5 21.9,664.9 22.3,665.2 22.7,665.2 24,664.8 24.8,664.4 27.1,663.3 31.4,661.1 33.1,660.1 28.7,661.6 25.6,662.5 23.1,663.1ZM71.1,673.8 71.2,674.4 71.6,675 71.9,675.2 72.3,675.2 73.8,675 84,673.1 80.7,683.4 79.6,686 79.6,686.1 79.8,686.4 80.2,686.7 80.8,686.9 81.2,686.8 81.4,686.3 85.7,672.8 92.3,671.6 92.8,671.4 93,671.3 93,671 92.6,670.6 92.1,670.2 91.6,670.1 89.6,670.7 86.2,671.4 92.4,652.1 92.5,651.7 92.4,651.6 92.1,651.4 91.3,651.1 90.9,651 90.6,651.1 90.7,651.8 90.6,652.8 84.5,671.7 73.3,673.7 72.1,673.9ZM85.3,660.5 84.9,659.8 84.3,658.8 83.2,657.5 81.9,656.3 81.4,655.9 81.2,655.9 80.9,656.1 80.4,656.6 80.2,656.8 80.3,657 82,659.1 82.5,660 83.4,661.5 83.7,661.9 83.8,661.9 84,661.8 84.7,661.4 85.3,660.7ZM82,667.9 82.1,667.6 81.7,666.9 80.1,664.9 78.9,663.7 78,663.1 77.5,663.3 77,663.8 76.9,664 76.9,664.2 78.8,666.3 80.4,668.7 80.7,668.9 81,668.8 81.5,668.4ZM69.6,662.7 71,661.6 73,659.8 74.4,658.5 75.6,657.1 75.9,656.6 75.7,656.3 75.2,655.8 74.6,655.5 74.3,655.5 74.1,655.5 73.6,657 73,658.2 71.3,660.6ZM52.5,681 53.7,680.1 55,679 58.3,675.9 61.2,672.7 62.6,671 63.2,670 63.9,670.3 63.3,671.7 62.6,673.8 59.5,683.2 58.5,685.5 58.5,685.9 58.8,686.3 59.3,686.5 59.6,686.5 59.8,686.5 60,686.2 60.1,685.9 66.5,666.2 73.1,665.9 73.8,665.7 73.8,665.4 73.5,665 73,664.6 72.6,664.4 71.3,664.6 70.2,664.8 67,664.9 70.9,652.8 71,652.5 70.9,652.4 69.8,652 69.2,651.9 69.4,652.7 69.2,653.7 65.5,665.1 59.6,665.4 58.6,665.4 57.5,665.2 57.6,665.8 57.9,666.3 58.1,666.5 58.5,666.7 59.9,666.6 64.7,666.4 62,670 59.6,673 56.9,676.1ZM65.3,670.4 65.9,671.2 66.3,672 68,675.6 68.1,675.8 68.2,675.8 68.7,675.6 69.2,675.2 69.7,674.7 69.3,673.6 68.5,672.2 66.7,669.7 66.6,669.6 66.3,669.7ZM62.1,657 62.6,659.6 63,662.7 63.2,662.9 63.5,662.8 64.3,662.5 64.5,662.3 64.7,662.1 64.8,661.5 64.7,661 64.4,659.7 63.6,657 63.4,656.6 63.3,656.5 62.9,656.6 62.3,656.9ZM89,684.4 91.1,683.8 93.8,682.6 96.8,681.1 98.5,680.2 101.9,677.9 103.6,676.7 107.1,673.9 109.8,671.6 109.8,671.6 106.1,683.1 105,685.9 105,686.3 105.3,686.6 105.9,686.9 106.3,686.9 106.6,686.7 106.8,686.3 111.6,671.3 112.1,672.1 113.3,673.9 115.3,676.4 117.6,678.8 120,680.9 121.9,682.4 123.3,683.3 124,683.7 124.1,683.7 124.4,683.6 125.6,682.9 125.9,682.6 126,682.5 123,680.5 120.4,678.7 118.3,676.9 117.3,676 116.3,675 114.5,672.8 112.4,669.8 127.3,669 127.7,669 128,668.9 128,668.6 127.8,668.2 127.2,667.7 126.8,667.5 125.9,667.7 124.7,667.8 112.6,668.4 116.1,657.6 128.6,656.9 129,656.8 129.1,656.7 129,656.4 128.7,655.8 128.3,655.5 127.9,655.4 127,655.6 125.8,655.7 116.5,656.2 118.2,651.1 118.1,651 118,650.9 117.3,650.5 117.3,650.5 116.9,650.3 116.4,650.3 116.2,650.3 116.3,651.2 116.2,652 114.8,656.4 103.6,657.1 102.2,656.9 102.3,657.5 102.5,658 102.7,658.3 103,658.4 104.1,658.4 114.3,657.8 110.9,668.5 97.8,669.1 96.5,669 96.6,669.5 96.8,670.2 96.9,670.4 97.2,670.5 109.7,669.9 107.8,671.7 105.5,673.7 103.1,675.6 100.7,677.4 98.2,679 94.7,681.3 92.4,682.6 89.5,684.1ZM115.3,666.8 115.8,666.6 116.8,666.1 119.6,664.4 122.3,662.6 124.2,661 124.7,660.4 124.8,660 124.7,659.6 124,658.6 123.9,658.5 123.6,658.6 123,659.5 122.5,660.3 121.7,661.1 119.8,663 117.3,665.2ZM108.9,665.2 108.4,664.1 107.8,663.1 106.5,661.4 105.6,660.4 105.2,660.1 104.7,660.3 104.2,660.7 104,661 104.1,661.3 104.9,662.4 105.7,663.6 107.3,666.5 107.5,666.6 107.7,666.5 108.4,666 108.9,665.5ZM139.6,685 140.4,684.5 141.9,683.2 143.6,681.3 144.6,680.3 146.4,677.9 147.3,676.6 149.3,673.6 151.2,670 152.2,668 153.2,665.8 154.8,661.6 156.6,656 175.2,654.9 175.7,654.8 175.9,654.7 175.7,654.2 175.5,653.9 175,653.5 174.7,653.4 173,653.7 157.4,654.7 155.7,653.8 155.4,653.7 155.1,653.7 155.1,654.8 154.9,656.1 154.6,657.2 153.9,659.5 152.1,664.5 150.9,667.4 149.7,670.2 148.3,672.8 146.9,675.3 145.4,677.7 143.7,680 142,682.2ZM152.5,682.3 153.1,683.4 153.7,684.1 154.6,685 155.7,685.8 156.1,686 156.5,686.2 157.1,686 157.6,685.7 158.1,685.3 158.3,684.8 158.7,683.3 162,672.6 167.2,672.3 168,672.2 168.1,672.2 168,671.8 167.5,670.8 167.6,670.6 171,663 171.5,662.3 171.6,662 171.5,661.8 171.2,661.6 171,661.4 170.7,661.3 163.2,661.8 165.7,659.2 166.9,657.8 166.9,657.6 166.8,657.3 166.5,657.1 165.8,656.7 165.4,656.5 165,657.5 163.9,659.3 163,660.5 161.7,661.9 159.6,662 158,661.4 157.4,661.4 157.5,662.4 157.4,663.5 155.6,671.4 154.9,673.2 154.9,673.6 155,673.8 155.2,674 155.7,674.2 156,674.2 156.1,674.2 156.3,673.9 156.6,672.9 160.4,672.7 156.9,684.2 155.9,683.9 154.7,683.5ZM169.5,662.7 168,666.2 158,666.7 158.9,663.3ZM167.6,667.3 166,671.2 156.8,671.7 157.8,667.8ZM165.7,674.7 165.3,674.9 164.7,675.3 164.4,675.5 164.4,675.7 166,679 166.5,680.5 167.1,682.3 167.3,682.7 168,682.3 168.7,681.8 168.9,681.6 168.9,681.2 168.5,679.8 167.5,677.8 166.2,675.4 165.8,674.9ZM146.9,683.7 148,683.1 149.9,681.8 151.9,680 153.1,679 155.5,676.6 155.5,676.3 155.2,675.9 154.5,675.3 154,675.1 153.4,676.6 152.4,677.9 150.5,680.1ZM149.4,659.6 149.7,659.5 150,659.3 150.9,658.4 151,658.3 150.8,657.9 150.1,656.5 148.8,654.9 148,654.1 147.4,653.5 147,653.3 146.7,653.4 146.4,653.6 146,654 145.8,654.2 145.8,654.4 147.7,656.9 149,659.1ZM140.3,663.2 142.3,664.9 143,665.8 144.2,667.3 144.6,667.7 144.7,667.7 145,667.5 145.9,666.6 146,666.4 146,666.2 145.9,665.9 145.6,665.4 144.1,664 141.9,662.2 141.5,662 141.2,662.1 140.5,662.8 140.3,663ZM133.2,682.5 133.3,682.7 133.6,682.8 135.1,683.4 135.5,683.3 135.9,682.9 139.1,679.1 142,675.4 143.9,672.9 145.7,670 145,670.6 139.9,676.4 136.8,679.6 135.2,681.2ZM215.7,686.2 216,686.1 216.3,685.7 217.1,683.2 243.4,682.6 244.4,682.5 244.6,682.3 244.5,681.9 244.2,681.2 243.8,680.6 252.2,654.7 252.7,653.9 252.6,653.4 252.5,653.2 252,652.9 251.1,652.9 226.7,654.3 226.6,654.3 224.7,653.6 224.3,653.5 224,653.5 224.2,654.7 224.1,655.2 223.9,656 215.6,682.2 215.2,683.4 214.5,684.9 214.4,685.3 214.4,685.5 214.6,685.8 214.9,686ZM250.4,654.5 241.8,681 217.5,681.7 225.7,655.7ZM221.4,675.6 221.5,676.2 221.7,676.7 221.9,677 222.4,677 240.2,676.4 240.7,676.2 240.8,676.1 240.9,675.9 240.7,675.5 240.3,675 239.9,674.8 238.3,675.2 237.7,675.3 231.9,675.5 234.2,668.3 239.8,668.1 240.3,668 240.4,667.8 240.4,667.5 240.3,667.2 239.8,666.7 239.5,666.5 237.7,666.9 234.6,667.1 236.6,661.1 243.5,660.7 243.9,660.6 244.1,660.5 244,660.2 243.7,659.7 243.4,659.3 243.1,659.2 241.8,659.5 240.5,659.7 230.2,660.2 229,660.2 228.1,660.1 228.1,660.5 228.3,661.1 228.5,661.3 228.8,661.5 235,661.2 233,667.2 229,667.4 227.2,667.2 227.3,668 227.6,668.3 227.9,668.5 228.5,668.6 232.6,668.4 230.3,675.6 223.5,675.8 222.3,675.8ZM235.8,670.6 237.1,672.7 237.8,674 237.9,674 238.1,673.9 238.8,673.3 238.9,673.2 238.9,673 238.7,672.4 237.8,671.1 236.9,670 236.6,669.9 236.4,670 236.1,670.2ZM255.2,662.8 255.6,663.4 255.9,663.7 256.2,663.8 256.5,663.7 258.4,661.4 260.8,658 286.5,656.7 284.4,659.4 281.7,662.5 283.4,661.3 284.9,660.2 286.1,659.1 288.2,657 289,656.4 289.1,656.2 289.2,655.9 289,655.7 288.8,655.4 288.5,655.2 288.2,655.1 274,655.9 275.4,651.6 275.3,651.5 275,651.3 274.2,651 273.5,650.8 272.9,650.8 273.2,651.5 273.2,652.1 273,652.8 272,656.1 261.7,656.6 262.5,655.2 262.8,654.5 262.6,654.3 262.2,654.2 261.9,654.1 261.6,654.2 261.3,654.4 261.1,654.7 259.8,656.8 258,659.4 256.8,661ZM248.3,682.9 249.6,682.7 251.4,682.2 253.4,681.6 255.4,680.9 257.6,680 259.9,678.9 262.3,677.7 264.8,676.4 268,674.5 267.9,675.8 267.6,677.3 267.2,678.9 266.6,680.4 266.1,681.7 265.5,682.9 264.9,683.8 264.3,684.4 264.1,684.5 263.8,684.6 262.3,684 261.2,683.3 259.5,681.9 259.1,681.7 259.1,682.1 259.1,682.5 259.5,683.2 260.1,684.2 261.3,685.6 262.1,686.3 262.8,686.7 263.4,686.8 263.9,686.7 264.6,686.3 265.1,685.9 266.2,684.9 266.9,683.7 267.8,682 268.6,680 269.1,678.5 269.5,676.3 269.8,674.2 271.9,676.2 273.5,677.6 275.2,678.8 277,679.8 280,681.4 281.4,682 281.9,681.8 282.6,681.3 283.2,680.9 283.6,680.5 279.5,678.8 277.3,677.7 276.3,677.1 275.2,676.5 273.1,675 269.5,671.9 272.6,670.7 275,669.7 277.5,668.5 280,667.2 280.2,667 280.3,666.7 280.3,666 280.2,665.3 280,664.9 279.9,664.8 279.8,664.9 279,665.8 278.2,666.5 277.3,667.2 276.1,667.9 273.1,669.3 269.9,670.6 269.7,668.8 269.3,667.5 268.8,666.4 268,665.3 270.1,664 271.8,662.8 279.9,662.3 280.2,662.3 280.5,662.1 280.4,661.6 280.1,661.2 279.9,660.9 279.6,660.8 278,661.1 277,661.3 263.1,662 261.5,662 260.2,661.8 260.3,662.5 260.5,663 260.7,663.2 261.2,663.4 262.5,663.4 269.2,663 269.2,663.1 265.7,665.3 263,666.6 260.2,667.9 256.3,669.3 255.5,669.7 256.2,669.6 257.6,669.3 261.3,668.2 263.8,667.3 266.5,666 267.2,667.1 267.7,668.1 264.3,670.2 261,672 257.5,673.7 252.9,675.6 251.8,676.2 253.4,675.8 256.8,674.9 260.3,673.5 263.9,671.9 265.7,670.9 268,669.5 268.1,670.1 268.2,672.1 268.2,672.8 263,675.8 259.8,677.6 256.6,679.2 249.7,682.2ZM298.3,685.8 298.9,685.5 300.8,684.5 303.4,682.9 305.6,681.2 306.9,680 308.1,678.7 309.2,677.4 310.3,675.9 311.3,674.3 312.3,672.6 313.2,670.8 314.1,668.6 317.4,668.1 313.1,681.5 312.8,682.5 312.8,683.1 312.8,683.5 313,683.9 313.3,684.1 313.6,684.3 314.1,684.5 316.2,684.6 319,684.6 320.3,684.4 321.3,684.1 322.1,683.6 322.8,682.9 323.5,681.5 324.2,679.7 325.2,676.7 325.4,675.9 325.4,675.5 324.9,676.3 323.6,678.9 322.7,680.6 321.9,681.8 321.5,682.2 321.2,682.4 320.5,682.7 319.3,682.9 317.8,683 316.4,682.9 315.5,682.8 315.1,682.7 314.8,682.3 314.7,681.9 314.7,681.4 314.8,680.9 319.1,667.9 321.5,667.5 322.6,667.2 323.3,668.8 323.6,669.7 323.8,669.9 324.1,669.9 324.7,669.6 325.2,669.2 325.3,669 325.4,668.8 325.3,668.4 324.7,667.2 323.7,665.5 321.8,662.8 321.5,662.5 321.3,662.5 320.6,662.8 320.3,663.1 320.3,663.2 320.5,663.6 321.3,664.7 322.3,666.3 320.5,666.6 317,667.1 311.2,667.6 314.2,664.9 316,663.2 317.4,661.7 318.7,660.2 318.8,660 318.7,659.8 317.5,658.8 317.1,659.5 316.8,660 314.6,662.7 312.1,665.3 309.7,667.6 309.5,667.7 308.4,667.8 307.2,667.6 307,667.6 307,668.1 307.1,668.6 307.4,669.1 307.7,669.3 309.1,669.2 312.5,668.8 311.1,671.7 309.9,673.9 308.6,676 307.8,677.1 306.3,679 304.5,680.9 302.5,682.7 300.2,684.4 298.7,685.4ZM317.5,658.8 328.2,658.1 328.9,658 328.8,657.5 328.5,657.1 328.2,656.8 327.9,656.6 324.7,657 320.2,657.3 321.8,652.5 321.8,652.2 321.7,652 321.3,651.8 320.5,651.6 319.8,651.5 320,652.1 319.9,653 318.5,657.4 312.3,657.7 311.6,657.7 310.7,657.5 310.8,658.1 311,658.6 311.3,658.8 311.7,659 312.1,659ZM292.7,672.3 292.7,673.2 292.9,673.9 293.1,674.3 293.5,674.4 296.2,673.8 299.5,672.8 302.1,671.9 303.2,671.4 304,670.9 302.9,671 297.8,671.9 296.7,672 302.9,665.8 306.9,661.5 308.2,660 308.4,659.8 308.4,659.3 308.3,659 307.8,658.4 307.3,658 306.7,659.3 306.1,660.1 304.4,662.1 301.5,665.4 299.2,663.7 298.3,663.2 298.1,662.9 301,659.9 303.1,657.8 305.1,655.5 306.3,653.9 306.7,653.4 306.6,653 306.3,652.5 305.6,652 305.4,651.8 305,652.9 304.5,653.9 303.6,655.2 302.7,656.3 300.5,658.7 297.1,662.2 296.1,661.9 295.7,661.8 295.4,662 294.8,662.7 294.7,663 294.8,663.2 296.3,664 297.5,664.8 298.7,665.6 299.8,666.6 300.2,666.8 294.8,672.4 293.9,672.4ZM288.6,681.9 288.9,682.8 289.1,683.3 289.4,683.6 289.5,683.7 290.3,683.5 292.9,682.4 298.5,679.6 301.7,677.8 303.1,676.9 296.3,679.5 291,681.4 289.6,681.8ZM348.8,664 348.8,664.8 349,665.2 349.5,665.6 350.1,665.7 351,665.8 358.1,665.4 352.5,682.5 352.1,683.5 351.3,685.2 351.3,685.6 351.6,686 352.1,686.3 352.7,686.5 353,686.3 353.2,685.8 359.8,665.3 369.8,664.8 370.4,664.6 370.4,664.6 370.4,664.4 370.3,664.1 370,663.7 369.6,663.3 369.3,663 368.4,663.2 367,663.4 360.3,663.7 364.1,651.8 364,651.6 363.7,651.4 362.8,651.1 362.2,651 361.9,651 362.2,651.7 362.2,652.2 362.1,652.8 358.5,663.9 350.8,664.2 349.5,664.2 349.1,664.1ZM349,658.9 348.7,658.1 348,656.9 347.2,655.8 345.8,654.2 345,653.3 344.5,652.9 344.2,652.9 343.8,653.2 343.4,653.6 343.3,653.8 345.2,656.5 347,659.8 347.2,660 347.8,659.8 348.5,659.3 348.8,659.1ZM334.2,681 334.4,681.4 334.7,681.7 335.5,682.4 335.8,682.6 336.2,682.6 337.4,682.2 338.7,681.4 340.4,680.2 346.3,675.5 345.1,676.1 341.1,678.4 339,679.5 344,665.6 344.6,665.1 344.8,664.8 344.8,664.7 344.7,664.5 344.2,664.1 343.9,664 336.7,664.8 335.8,664.7 334.8,664.6 334.7,664.7 334.8,665 335.1,665.7 335.5,666 336,666.1 336.9,666.1 342.4,665.6 337.2,680.2 336.9,680.3 336,680.6ZM364.4,685.2 365.8,684.3 367.4,683 370.1,680.4 371.3,679 372.5,677.5 373.6,675.9 374.7,674.2 375.8,672.4 378.2,668 401.8,667 399.7,672.4 397.8,676.8 395.8,680.7 393.8,684.2 393.5,684.4 393.1,684.5 392.9,684.5 392.4,684.4 390.5,683.7 387.9,682.5 387.4,682.3 387.7,683.1 388.8,684.2 390.4,685.8 391.3,686.5 391.9,686.7 392.6,686.9 393.3,686.8 393.9,686.4 394.4,686 394.8,685.5 395.8,683.8 397.1,681.5 398.6,678.4 401,673.4 403.5,667.4 404.1,666.4 404.1,666.1 404,665.7 403.9,665.6 403.6,665.5 402.5,665.4 378.8,666.6 380.1,663.4 380.6,662.2 401.3,661 402.1,660.9 402.3,660.8 402.4,660.6 402.4,660.2 402.1,659.7 401.6,659.2 404.2,654.3 404.6,653.6 404.8,653.1 404.7,652.8 404.4,652.6 404.1,652.4 403.3,652.3 384,653.6 382,652.6 381.6,652.5 381.4,652.5 381.4,653.8 381.3,654.8 380.7,656.6 379.4,660.4 378,664.1 377,666.6 375.8,669.1 374.5,671.6 373.2,674 371.7,676.3 370.2,678.5 368.6,680.6 366.9,682.6ZM383.1,655.1 401.9,654 402.4,654 399.7,659.6 381.2,660.7ZM379.5,671.5 379.7,672 379.7,672.4 379.4,674 378.3,678.8 377.5,680.9 377.5,681.2 377.7,681.5 378.1,681.9 378.6,682.1 378.8,682.1 379,682 379.2,681.7 379.5,680.5 389.5,680.2 390.1,680.1 390.5,680 390.4,679.6 389.8,678.7 389.8,678.5 392.3,673.3 392.8,672.5 392.8,672.3 392.6,671.9 392.1,671.7 391.2,671.7 381.9,672.2 380.3,671.6 380,671.5ZM390.6,673.1 388.1,678.9 379.7,679.2 381.2,673.6ZM407.8,687 408.7,686.9 409.2,686.7 410.5,686.1 411.2,685.6 413.5,683.8 414.3,683.2 415.4,681.9 415.9,681.3 416.6,680 417,679 417.1,678.6 417.1,678 417,677.1 416.7,676.3 416.3,676 416,675.7 415.5,675.6 414.9,675.6 414,675.8 413.4,676 412.8,676.3 412.3,676.7 411.9,677.1 411.5,677.7 411.3,678.3 411.1,679 411.2,679.6 411.4,680.2 411.8,680.8 413.2,681.5 412.5,682.5 411.2,683.9 409.4,685.3 407.9,686.4 407.7,686.6 407.6,686.8 407.6,687ZM458.9,670 461.6,669.3 464.1,668.3 467,667 468.6,666.2 472.3,664.1 473.2,664.8 474.8,665.8 476.4,666.7 478.1,667.5 480.5,668.6 482.5,669.4 482.9,669.4 483.3,669.2 484.2,668.5 484.6,668 481.4,666.9 478.8,665.8 476.4,664.6 474.4,663.4 473.8,663.1 476.8,661.1 477.9,660.2 480,658.5 482,656.5 482.9,655.5 483.6,654.9 483.8,654.6 483.7,654.3 483.5,654.1 483.2,653.9 482.6,653.8 481.8,653.8 466.8,654.6 465.4,654.5 465.4,655.2 465.6,655.8 466,656 466.5,656.1 467.4,656.1 481.2,655.3 479,657.5 477.3,659.1 475.3,660.6 472.8,662.3 471.4,661.1 470.2,660 469.2,658.9 468,657.3 467.7,657.4 467.2,657.7 466.9,658 466.8,658.2 466.9,658.6 467.2,659.1 468,660.2 469.2,661.4 471.3,663.4 465.2,666.9ZM456,677.3 456.1,678 456.5,678.9 456.6,679 456.9,679 466.9,678.8 465.2,683.8 465,684.5 464.5,685.3 464.4,685.7 464.5,686 464.8,686.4 465.2,686.6 465.7,686.7 466.1,686.5 466.3,686.2 468.7,678.7 479.6,678.4 480.1,678.3 480.2,678.3 480.2,678.2 480.1,677.8 479.7,677.3 479.4,677 479.1,676.9 477.2,677.2 469.1,677.3 470.6,672.7 477.7,672.4 478.2,672.3 478.3,672.3 478.3,672.2 478.2,671.9 478,671.5 477.5,671.1 477.2,671 474.8,671.2 471,671.4 472,668.2 472.1,667.7 471.9,667.6 471.6,667.4 470.6,667 470.2,667 469.9,667 469.9,667.2 470,668 470,668.8 469.2,671.5 463.8,671.7 462.5,671.7 461.6,671.6 461.7,672.2 461.8,672.6 462,672.8 462.4,673 468.8,672.8 467.3,677.4 458.2,677.6 456.9,677.5ZM460.7,659.3 461.1,659 461.7,658.5 461.9,658.1 461.8,657.8 460.8,656.3 459.3,654.6 457.9,653.3 457.5,653.1 457.3,653.1 456.6,653.8 456.4,654 456.4,654.1 458.4,656.5 460.3,659.2 460.5,659.3ZM444.6,683.6 445.2,684.1 445.6,684.3 446.1,684.4 446.7,684.2 447.2,683.8 448.1,682.7 450.3,680.1 452.9,676.7 454.3,674.8 455.4,673.1 456.8,670.9 457.2,670.1 456.7,670.5 454.2,673.6 451.9,676.3 448.1,680.5 446.1,682.5 445.5,683ZM450.7,663.4 451.9,664.4 453,665.5 453.9,666.5 454.8,667.6 455.1,667.8 455.3,667.8 455.9,667.4 456.3,667 456.5,666.7 456.6,666.5 456.5,666.3 455.8,665.4 453.7,663.6 451.8,662.1 451.6,662 451.5,662 450.8,662.6 450.5,663.1ZM487.6,670.8 487.6,671.3 487.8,672 488.1,672.5 488.4,672.6 504.2,671.9 500.4,683.6 499.3,686.3 499.4,686.7 499.8,687 500.3,687.2 500.8,687.2 501.1,687 501.3,686.6 506,671.8 523,671.1 523.5,671 523.8,670.9 523.7,670.4 523.5,670 523.1,669.6 522.7,669.4 520.3,669.8 506.6,670.4 511.6,654.8 523.3,654.2 523.8,654.1 524.1,654 524.1,653.7 524,653.4 523.5,652.8 523.2,652.6 522.9,652.6 520.6,652.9 500.2,654.1 498.9,654.1 498.1,653.9 498.1,654.1 498.1,654.3 498.3,655 498.5,655.4 498.8,655.5 500,655.5 509.7,655 504.7,670.5 489.7,671.1 488.4,671ZM516.6,660.2 515.7,658.8 515.4,658.4 515.1,658.5 514.6,658.8 514.2,659.1 514.1,659.3 514.1,659.5 514.1,659.8 515.1,661.6 515.9,663.2 516.5,664.8 517.1,666.4 517.2,666.7 517.4,666.8 518,666.5 518.7,666.1 519,665.7 519,665.5 518.8,664.7 518.3,663.4ZM493.9,668.1 495.6,667.1 497.2,666 499.2,664.4 502.2,661.8 503.3,660.8 504.2,659.8 504.3,659.7 504.3,659.5 504,659 503.2,658.4 502.7,658.2 502.3,659.2 502,659.8 500.8,661.3 499.1,663.2 497.4,664.8ZM529.6,663.9 529.9,664.5 530.2,664.8 530.5,664.9 530.8,664.6 532.3,663.1 535.6,658.7 561.6,657.4 560.9,658.4 560.3,659.3 557.1,662.9 558.5,662.1 560.4,660.4 563.5,657.6 564.3,657 564.4,656.8 564.4,656.7 564.3,656.3 564,656.1 563.6,655.9 563.1,655.8 548.8,656.6 550.3,651.9 550.1,651.6 549.4,651.3 548.5,651.1 547.9,651.1 548.1,651.9 548.1,652.7 546.9,656.8 536.4,657.3 537.3,656.2 537.5,655.8 537.5,655.4 537.4,655.2 537.1,655 536.4,655 536.1,655.3 534.8,657.3 533,659.7 531.1,662.3ZM521.7,684.1 522.2,683.9 523.3,683.4 526.1,681.6 529.4,679.2 533,676.2 535.5,674 536.6,672.8 538.9,670.3 541.2,667.4 557.2,666.6 557.6,666.5 557.8,666.3 557.9,666 557.8,665.8 557.3,665.3 557.1,665.1 556.9,665 554.4,665.4 542.1,666 542.7,665.4 544.5,662.7 545,661.9 545.3,661.1 545.3,660.7 544.9,660.3 544.1,659.9 543.5,659.9 543.5,660.3 543.3,660.8 542.6,662.3 541.4,664.4 540.2,666.2 532.9,666.6 531.3,666.4 531.5,667.2 531.7,667.7 532.2,667.9 532.8,667.9 539.2,667.6 537.1,670.2 535.3,672.2 533.5,674.2 531.5,676.1 529.4,677.9 527.3,679.8 525,681.5 522.4,683.4ZM530,682.4 530,683.2 530.3,684 530.6,684.2 530.7,684.3 531.4,684.4 533.7,684.2 538.6,683.4 546.4,682.1 549.2,681.5 550.6,685.1 550.9,685.5 551,685.6 551.2,685.5 551.7,685.3 552.3,684.9 552.6,684.6 552.6,684.3 552.5,683.8 552.3,683.1 551.4,681.2 549.2,677.1 548.2,675.4 547.9,675.1 547.6,675.1 547.1,675.5 546.7,675.7 546.7,675.9 547.9,678.4 548.8,680.6 535.9,682.2 542.3,675.4 544.4,673.1 546,671 546.2,670.4 546.2,670.2 546.1,669.8 545.7,669.2 544.9,668.8 544.9,668.9 544.5,669.9 544.1,670.6 543.8,671.1 542.8,672.3 539.5,676.3 534,682.4 532.2,682.5ZM586.4,653.3 586.5,654.6 586.4,655.6 582.2,669.7 581.2,672.3 581.2,672.5 581.7,672.9 582.3,673.2 582.6,673.1 582.9,672.8 588,655.4 599.1,654.8 594.1,669.5 593.1,672 593.1,672.3 593.4,672.6 594,673 594.4,673 594.6,672.8 594.8,672.5 600.8,655.1 601.3,654.2 601.3,654.1 601,653.8 600.7,653.6 600.2,653.4 588.8,654.1 587,653.4 586.7,653.3ZM571.6,685.8 573.8,685 575.8,684.1 577.6,683.2 579.3,682.2 580.9,681.1 582.3,680 583.6,678.8 585,677.2 586.4,675.3 588.1,672.5 588.3,672.6 585.1,682.5 585,683.1 585,683.6 585.1,684.1 585.3,684.4 585.5,684.7 585.9,684.9 586.4,685 587.1,685.2 588.9,685.3 591.8,685.3 593.4,685.1 594.6,684.9 595.4,684.5 596,683.9 596.5,683.2 596.7,682.7 597.6,680.3 598.3,677.9 598.5,677 598.6,676.3 598,677.3 596.6,680.1 595.5,682.1 594.9,682.9 594.2,683.3 593.5,683.6 592.5,683.7 590.3,683.7 588.7,683.7 587.9,683.6 587.3,683.4 587,683.1 586.9,682.7 586.9,682.1 587.2,680.9 590.5,670.9 590.5,670.6 590.4,670.4 590,670.2 589.2,670 591.7,663 592.7,660.1 592.8,659.7 592.2,659.5 591.3,659.2 590.8,659.1 590.5,659.1 590.8,660.1 590.7,660.7 589.4,664.8 587.7,669.4 586.8,671.6 585.6,674 584.2,676 583.2,677.3 581.8,678.9 580.7,679.9 579.5,680.9 578.3,681.8 575.5,683.6 572.1,685.4ZM559.4,684.3 561,683.3 562.6,682.2 564.8,680.5 566.1,679.4 568.6,677.1 569.9,675.9 572.3,673.3 573.6,671.9 574,671.4 575.3,674.5 576.9,679 577.1,679 577.8,678.7 578.5,678.3 578.6,678.1 578.6,677.8 578.5,677.3 576.5,672.5 575.3,669.8 578.1,665.8 580.5,662.1 582.7,658 583.4,657 583.5,656.8 583.3,656.4 582.8,656.2 582,656.1 572.4,656.7 570.2,656.5 570.4,657.2 570.7,657.9 571,658.1 571.3,658.2 572.3,658.2 580.9,657.6 579.4,660.6 578.1,663.1 575.8,666.7 575,667.9 574.5,668.5 572.8,664.5 572.1,663 571.5,662 571.4,661.9 571,662.1 570.5,662.4 570.2,662.7 570.1,662.9 570.3,663.4 572,666.8 572.7,668.5 573.4,670.2 570.1,674 566.9,677.5 563.4,680.8Z"/>
<ellipse cx="181.9" cy="669.6" rx="2.9" ry="2.7" fill="#111"/><ellipse cx="178.9" cy="679.6" rx="2.9" ry="2.7" fill="#111"/>
<rect x="88.1" y="519.11" width="4.1" height="27.59" fill="url(#bg)"/>
<rect x="98.6" y="516.3" width="4.1" height="30.4" fill="url(#bg)"/>
<rect x="109.1" y="513.28" width="4.1" height="33.42" fill="url(#bg)"/>
<rect x="119.6" y="509.14" width="4.1" height="37.56" fill="url(#bg)"/>
<rect x="130.1" y="505.51" width="4.1" height="41.19" fill="url(#bg)"/>
<rect x="140.6" y="501.99" width="4.1" height="44.71" fill="url(#bg)"/>
<rect x="151.11" y="497.18" width="4.1" height="49.52" fill="url(#bg)"/>
<rect x="161.61" y="493.2" width="4.1" height="53.5" fill="url(#bg)"/>
<rect x="172.11" y="488.91" width="4.1" height="57.79" fill="url(#bg)"/>
<rect x="182.61" y="485.38" width="4.1" height="61.32" fill="url(#bg)"/>
<rect x="193.11" y="480.53" width="4.1" height="66.17" fill="url(#bg)"/>
<rect x="203.61" y="476.23" width="4.1" height="70.47" fill="url(#bg)"/>
<rect x="214.11" y="471.58" width="4.1" height="75.12" fill="url(#bg)"/>
<rect x="224.61" y="467.5" width="4.1" height="79.21" fill="url(#bg)"/>
<rect x="235.11" y="463.1" width="4.1" height="83.6" fill="url(#bg)"/>
<rect x="245.61" y="458.14" width="4.1" height="88.56" fill="url(#bg)"/>
<rect x="256.11" y="453.08" width="4.1" height="93.62" fill="url(#bg)"/>
<rect x="266.61" y="447.51" width="4.1" height="99.19" fill="url(#bg)"/>
<rect x="277.11" y="442.46" width="4.1" height="104.24" fill="url(#bg)"/>
<rect x="287.61" y="436.07" width="4.1" height="110.63" fill="url(#bg)"/>
<rect x="298.11" y="429.37" width="4.1" height="117.33" fill="url(#bg)"/>
<rect x="308.62" y="423.14" width="4.1" height="123.56" fill="url(#bg)"/>
<rect x="319.12" y="415.48" width="4.1" height="131.22" fill="url(#bg)"/>
<rect x="329.62" y="408.37" width="4.1" height="138.33" fill="url(#bg)"/>
<rect x="340.12" y="400.45" width="4.1" height="146.25" fill="url(#bg)"/>
<rect x="350.62" y="392.68" width="4.1" height="154.02" fill="url(#bg)"/>
<rect x="361.12" y="386.19" width="4.1" height="160.51" fill="url(#bg)"/>
<rect x="371.62" y="378.27" width="4.1" height="168.43" fill="url(#bg)"/>
<rect x="382.12" y="372.04" width="4.1" height="174.66" fill="url(#bg)"/>
<rect x="392.62" y="367.85" width="4.1" height="178.85" fill="url(#bg)"/>
<rect x="403.12" y="362.94" width="4.1" height="183.76" fill="url(#bg)"/>
<rect x="413.62" y="360.34" width="4.1" height="186.36" fill="url(#bg)"/>
<rect x="424.12" y="352.98" width="4.1" height="193.72" fill="url(#bg)"/>
<rect x="434.62" y="341.89" width="4.1" height="204.81" fill="url(#bg)"/>
<rect x="445.12" y="333.31" width="4.1" height="213.39" fill="url(#bg)"/>
<rect x="455.62" y="324.36" width="4.1" height="222.34" fill="url(#bg)"/>
<rect x="466.13" y="315.42" width="4.1" height="231.28" fill="url(#bg)"/>
<rect x="476.63" y="308.93" width="4.1" height="237.77" fill="url(#bg)"/>
<rect x="487.13" y="298.41" width="4.1" height="248.29" fill="url(#bg)"/>
<rect x="497.63" y="290.18" width="4.1" height="256.52" fill="url(#bg)"/>
<rect x="508.13" y="279.8" width="4.1" height="266.9" fill="url(#bg)"/>
<rect x="518.63" y="271.53" width="4.1" height="275.17" fill="url(#bg)"/>
<rect x="529.13" y="263.61" width="4.1" height="283.09" fill="url(#bg)"/>
<rect x="539.63" y="256.09" width="4.1" height="290.61" fill="url(#bg)"/>
<rect x="550.13" y="249.09" width="4.1" height="297.61" fill="url(#bg)"/>
<rect x="560.63" y="243.11" width="4.1" height="303.59" fill="url(#bg)"/>
<rect x="571.13" y="238.11" width="4.1" height="308.59" fill="url(#bg)"/>
<rect x="581.63" y="234.07" width="4.1" height="312.63" fill="url(#bg)"/>
<rect x="592.13" y="230.19" width="4.1" height="316.51" fill="url(#bg)"/>
<rect x="602.63" y="226.92" width="4.1" height="319.78" fill="url(#bg)"/>
<rect x="613.13" y="224.31" width="4.1" height="322.39" fill="url(#bg)"/>
<rect x="623.64" y="222.32" width="4.1" height="324.38" fill="url(#bg)"/>
<rect x="634.14" y="217.92" width="4.1" height="328.78" fill="url(#bg)"/>
<rect x="644.64" y="216.24" width="4.1" height="330.46" fill="url(#bg)"/>
<rect x="655.14" y="214.4" width="4.1" height="332.3" fill="url(#bg)"/>
<rect x="665.64" y="218.13" width="4.1" height="328.57" fill="url(#bg)"/>
<rect x="676.14" y="215.32" width="4.1" height="331.38" fill="url(#bg)"/>
<rect x="686.64" y="211.18" width="4.1" height="335.52" fill="url(#bg)"/>
<rect x="697.14" y="208.01" width="4.1" height="338.69" fill="url(#bg)"/>
<rect x="707.64" y="202.59" width="4.1" height="344.11" fill="url(#bg)"/>
<rect x="718.14" y="194.98" width="4.1" height="351.72" fill="url(#bg)"/>
<rect x="728.64" y="191.15" width="4.1" height="355.55" fill="url(#bg)"/>
<rect x="739.14" y="186.39" width="4.1" height="360.31" fill="url(#bg)"/>
<rect x="749.64" y="186.29" width="4.1" height="360.41" fill="url(#bg)"/>
<rect x="760.14" y="190.23" width="4.1" height="356.47" fill="url(#bg)"/>
<rect x="770.64" y="193.04" width="4.1" height="353.66" fill="url(#bg)"/>
<rect x="781.15" y="197.18" width="4.1" height="349.52" fill="url(#bg)"/>
<rect x="791.65" y="201.47" width="4.1" height="345.23" fill="url(#bg)"/>
<rect x="802.15" y="204.18" width="4.1" height="342.52" fill="url(#bg)"/>
<rect x="812.65" y="211.23" width="4.1" height="335.47" fill="url(#bg)"/>
<rect x="823.15" y="216.54" width="4.1" height="330.16" fill="url(#bg)"/>
<rect x="833.65" y="223.29" width="4.1" height="323.41" fill="url(#bg)"/>
<rect x="844.15" y="229.37" width="4.1" height="317.33" fill="url(#bg)"/>
<rect x="854.65" y="235.25" width="4.1" height="311.45" fill="url(#bg)"/>
<g stroke="#8a8a8a" stroke-width="1.7" fill="none">
<line x1="74.65" y1="137.05" x2="74.65" y2="546.7"/>
<line x1="862.2" y1="137.05" x2="862.2" y2="546.7"/>
<line x1="68" y1="546.7" x2="863.05" y2="546.7"/>
<line x1="68" y1="546.7" x2="74.65" y2="546.7"/>
<line x1="68" y1="495.6" x2="74.65" y2="495.6"/>
<line x1="68" y1="444.5" x2="74.65" y2="444.5"/>
<line x1="68" y1="393.4" x2="74.65" y2="393.4"/>
<line x1="68" y1="342.3" x2="74.65" y2="342.3"/>
<line x1="68" y1="291.2" x2="74.65" y2="291.2"/>
<line x1="68" y1="240.1" x2="74.65" y2="240.1"/>
<line x1="68" y1="189" x2="74.65" y2="189"/>
<line x1="68" y1="137.9" x2="74.65" y2="137.9"/>
<line x1="862.2" y1="546.7" x2="869.2" y2="546.7"/>
<line x1="862.2" y1="488.3" x2="869.2" y2="488.3"/>
<line x1="862.2" y1="429.9" x2="869.2" y2="429.9"/>
<line x1="862.2" y1="371.5" x2="869.2" y2="371.5"/>
<line x1="862.2" y1="313.1" x2="869.2" y2="313.1"/>
<line x1="862.2" y1="254.7" x2="869.2" y2="254.7"/>
<line x1="862.2" y1="196.3" x2="869.2" y2="196.3"/>
<line x1="862.2" y1="137.9" x2="869.2" y2="137.9"/>
<line x1="74.65" y1="546.7" x2="74.65" y2="552.8"/>
<line x1="85.15" y1="546.7" x2="85.15" y2="552.8"/>
<line x1="95.65" y1="546.7" x2="95.65" y2="552.8"/>
<line x1="106.15" y1="546.7" x2="106.15" y2="552.8"/>
<line x1="116.65" y1="546.7" x2="116.65" y2="552.8"/>
<line x1="127.15" y1="546.7" x2="127.15" y2="552.8"/>
<line x1="137.65" y1="546.7" x2="137.65" y2="552.8"/>
<line x1="148.15" y1="546.7" x2="148.15" y2="552.8"/>
<line x1="158.66" y1="546.7" x2="158.66" y2="552.8"/>
<line x1="169.16" y1="546.7" x2="169.16" y2="552.8"/>
<line x1="179.66" y1="546.7" x2="179.66" y2="552.8"/>
<line x1="190.16" y1="546.7" x2="190.16" y2="552.8"/>
<line x1="200.66" y1="546.7" x2="200.66" y2="552.8"/>
<line x1="211.16" y1="546.7" x2="211.16" y2="552.8"/>
<line x1="221.66" y1="546.7" x2="221.66" y2="552.8"/>
<line x1="232.16" y1="546.7" x2="232.16" y2="552.8"/>
<line x1="242.66" y1="546.7" x2="242.66" y2="552.8"/>
<line x1="253.16" y1="546.7" x2="253.16" y2="552.8"/>
<line x1="263.66" y1="546.7" x2="263.66" y2="552.8"/>
<line x1="274.16" y1="546.7" x2="274.16" y2="552.8"/>
<line x1="284.66" y1="546.7" x2="284.66" y2="552.8"/>
<line x1="295.16" y1="546.7" x2="295.16" y2="552.8"/>
<line x1="305.66" y1="546.7" x2="305.66" y2="552.8"/>
<line x1="316.17" y1="546.7" x2="316.17" y2="552.8"/>
<line x1="326.67" y1="546.7" x2="326.67" y2="552.8"/>
<line x1="337.17" y1="546.7" x2="337.17" y2="552.8"/>
<line x1="347.67" y1="546.7" x2="347.67" y2="552.8"/>
<line x1="358.17" y1="546.7" x2="358.17" y2="552.8"/>
<line x1="368.67" y1="546.7" x2="368.67" y2="552.8"/>
<line x1="379.17" y1="546.7" x2="379.17" y2="552.8"/>
<line x1="389.67" y1="546.7" x2="389.67" y2="552.8"/>
<line x1="400.17" y1="546.7" x2="400.17" y2="552.8"/>
<line x1="410.67" y1="546.7" x2="410.67" y2="552.8"/>
<line x1="421.17" y1="546.7" x2="421.17" y2="552.8"/>
<line x1="431.67" y1="546.7" x2="431.67" y2="552.8"/>
<line x1="442.17" y1="546.7" x2="442.17" y2="552.8"/>
<line x1="452.67" y1="546.7" x2="452.67" y2="552.8"/>
<line x1="463.17" y1="546.7" x2="463.17" y2="552.8"/>
<line x1="473.68" y1="546.7" x2="473.68" y2="552.8"/>
<line x1="484.18" y1="546.7" x2="484.18" y2="552.8"/>
<line x1="494.68" y1="546.7" x2="494.68" y2="552.8"/>
<line x1="505.18" y1="546.7" x2="505.18" y2="552.8"/>
<line x1="515.68" y1="546.7" x2="515.68" y2="552.8"/>
<line x1="526.18" y1="546.7" x2="526.18" y2="552.8"/>
<line x1="536.68" y1="546.7" x2="536.68" y2="552.8"/>
<line x1="547.18" y1="546.7" x2="547.18" y2="552.8"/>
<line x1="557.68" y1="546.7" x2="557.68" y2="552.8"/>
<line x1="568.18" y1="546.7" x2="568.18" y2="552.8"/>
<line x1="578.68" y1="546.7" x2="578.68" y2="552.8"/>
<line x1="589.18" y1="546.7" x2="589.18" y2="552.8"/>
<line x1="599.68" y1="546.7" x2="599.68" y2="552.8"/>
<line x1="610.18" y1="546.7" x2="610.18" y2="552.8"/>
<line x1="620.68" y1="546.7" x2="620.68" y2="552.8"/>
<line x1="631.19" y1="546.7" x2="631.19" y2="552.8"/>
<line x1="641.69" y1="546.7" x2="641.69" y2="552.8"/>
<line x1="652.19" y1="546.7" x2="652.19" y2="552.8"/>
<line x1="662.69" y1="546.7" x2="662.69" y2="552.8"/>
<line x1="673.19" y1="546.7" x2="673.19" y2="552.8"/>
<line x1="683.69" y1="546.7" x2="683.69" y2="552.8"/>
<line x1="694.19" y1="546.7" x2="694.19" y2="552.8"/>
<line x1="704.69" y1="546.7" x2="704.69" y2="552.8"/>
<line x1="715.19" y1="546.7" x2="715.19" y2="552.8"/>
<line x1="725.69" y1="546.7" x2="725.69" y2="552.8"/>
<line x1="736.19" y1="546.7" x2="736.19" y2="552.8"/>
<line x1="746.69" y1="546.7" x2="746.69" y2="552.8"/>
<line x1="757.19" y1="546.7" x2="757.19" y2="552.8"/>
<line x1="767.69" y1="546.7" x2="767.69" y2="552.8"/>
<line x1="778.19" y1="546.7" x2="778.19" y2="552.8"/>
<line x1="788.7" y1="546.7" x2="788.7" y2="552.8"/>
<line x1="799.2" y1="546.7" x2="799.2" y2="552.8"/>
<line x1="809.7" y1="546.7" x2="809.7" y2="552.8"/>
<line x1="820.2" y1="546.7" x2="820.2" y2="552.8"/>
<line x1="830.7" y1="546.7" x2="830.7" y2="552.8"/>
<line x1="841.2" y1="546.7" x2="841.2" y2="552.8"/>
<line x1="851.7" y1="546.7" x2="851.7" y2="552.8"/>
<line x1="862.2" y1="546.7" x2="862.2" y2="552.8"/>
</g>
<path d="M79.9,484.56C81.65,484.04 86.9,482.52 90.4,481.41C93.9,480.3 97.4,479.15 100.9,477.9C104.4,476.66 107.9,475.42 111.4,473.93C114.9,472.44 118.4,470.17 121.9,468.97C125.4,467.77 128.9,466.92 132.4,466.75C135.9,466.58 139.4,468.88 142.9,467.98C146.4,467.07 149.9,463.18 153.41,461.32C156.91,459.46 160.41,458.41 163.91,456.82C167.41,455.24 170.91,454.74 174.41,451.8C177.91,448.86 181.41,442.59 184.91,439.19C188.41,435.78 191.91,432.22 195.41,431.36C198.91,430.5 202.41,431.69 205.91,434.05C209.41,436.4 212.91,443.11 216.41,445.49C219.91,447.88 223.41,449.37 226.91,448.35C230.41,447.34 233.91,440.53 237.41,439.42C240.91,438.31 244.41,441.2 247.91,441.7C251.41,442.19 254.91,442.16 258.41,442.4C261.91,442.63 265.41,442.86 268.91,443.1C272.41,443.33 275.91,443.57 279.41,443.8C282.91,444.03 286.41,444.27 289.91,444.5C293.41,444.73 296.91,444.97 300.41,445.2C303.91,445.43 307.41,445.66 310.92,445.9C314.42,446.14 317.92,446.6 321.42,446.66C324.92,446.72 328.42,446.28 331.92,446.25C335.42,446.22 338.92,446.62 342.42,446.49C345.92,446.35 349.42,445.71 352.92,445.43C356.42,445.16 359.92,445.05 363.42,444.85C366.92,444.65 370.42,444.68 373.92,444.21C377.42,443.74 380.92,443.42 384.42,442.05C387.92,440.67 391.42,437.4 394.92,435.97C398.42,434.54 401.92,434.63 405.42,433.46C408.92,432.29 412.42,430.66 415.92,428.97C419.42,427.27 422.92,424.72 426.42,423.3C429.92,421.88 433.42,422.27 436.92,420.44C440.42,418.61 443.92,414.36 447.42,412.32C450.92,410.29 454.42,409.7 457.92,408.23C461.42,406.76 464.92,405.07 468.43,403.5C471.93,401.94 475.43,400.09 478.93,398.83C482.43,397.58 485.93,396.84 489.43,395.97C492.93,395.1 496.43,394.22 499.93,393.63C503.43,393.05 506.93,393.18 510.43,392.47C513.93,391.76 517.43,390.39 520.93,389.37C524.43,388.35 527.93,387.36 531.43,386.33C534.93,385.31 538.43,384.26 541.93,383.24C545.43,382.22 548.93,381.22 552.43,380.2C555.93,379.18 559.43,379.02 562.93,377.11C566.43,375.19 569.93,371.49 573.43,368.7C576.93,365.9 580.43,363.14 583.93,360.35C587.43,357.55 590.93,354.73 594.43,351.94C597.93,349.14 601.43,346.38 604.93,343.58C608.43,340.79 611.93,337.98 615.43,335.18C618.93,332.37 622.43,329.56 625.94,326.77C629.44,323.97 632.94,321.21 636.44,318.41C639.94,315.62 643.44,312.6 646.94,310C650.44,307.41 653.94,305.22 657.44,302.82C660.94,300.43 664.44,298.15 667.94,295.64C671.44,293.13 674.94,290.58 678.44,287.75C681.94,284.93 685.44,281.28 688.94,278.7C692.44,276.12 695.94,274.66 699.44,272.28C702.94,269.89 706.44,267.28 709.94,264.39C713.44,261.51 716.94,258.39 720.44,254.99C723.94,251.6 727.44,247.08 730.94,244.01C734.44,240.95 737.94,239.19 741.44,236.6C744.94,234.01 748.44,231.06 751.94,228.48C755.44,225.9 758.94,223.88 762.44,221.12C765.94,218.36 769.44,214.9 772.94,211.89C776.44,208.89 779.94,205.91 783.45,203.07C786.95,200.24 790.45,197.49 793.95,194.9C797.45,192.31 800.95,189.94 804.45,187.54C807.95,185.14 811.45,182.8 814.95,180.47C818.45,178.15 821.95,175.54 825.45,173.58C828.95,171.63 832.45,170.03 835.95,168.74C839.45,167.44 842.95,167.22 846.45,165.82C849.95,164.41 855.2,161.24 856.95,160.33" fill="none" stroke="#e46c0a" stroke-width="4" stroke-linejoin="round" stroke-linecap="round"/>
<g font-family="Liberation Serif" font-size="22" fill="#000" filter="url(#gray)">
<text x="50.4" y="554" text-anchor="end">0</text>
<text x="50.4" y="502.9" text-anchor="end">1</text>
<text x="50.4" y="451.8" text-anchor="end">2</text>
<text x="50.4" y="400.7" text-anchor="end">3</text>
<text x="50.4" y="349.6" text-anchor="end">4</text>
<text x="50.4" y="298.5" text-anchor="end">5</text>
<text x="50.4" y="247.4" text-anchor="end">6</text>
<text x="50.4" y="196.3" text-anchor="end">7</text>
<text x="50.4" y="145.2" text-anchor="end">8</text>
<text x="882.1" y="554.1">0%</text>
<text x="882.1" y="495.7">10%</text>
<text x="882.1" y="437.3">20%</text>
<text x="882.1" y="378.9">30%</text>
<text x="882.1" y="320.5">40%</text>
<text x="882.1" y="262.1">50%</text>
<text x="882.1" y="203.7">60%</text>
<text x="882.1" y="145.3">70%</text>
<text transform="translate(87.1,560.5) rotate(-90)" text-anchor="end" font-size="22">1949</text>
<text transform="translate(118.6,560.5) rotate(-90)" text-anchor="end" font-size="22">1952</text>
<text transform="translate(150.1,560.5) rotate(-90)" text-anchor="end" font-size="22">1955</text>
<text transform="translate(181.61,560.5) rotate(-90)" text-anchor="end" font-size="22">1958</text>
<text transform="translate(213.11,560.5) rotate(-90)" text-anchor="end" font-size="22">1961</text>
<text transform="translate(244.61,560.5) rotate(-90)" text-anchor="end" font-size="22">1964</text>
<text transform="translate(276.11,560.5) rotate(-90)" text-anchor="end" font-size="22">1967</text>
<text transform="translate(307.61,560.5) rotate(-90)" text-anchor="end" font-size="22">1970</text>
<text transform="translate(339.12,560.5) rotate(-90)" text-anchor="end" font-size="22">1973</text>
<text transform="translate(370.62,560.5) rotate(-90)" text-anchor="end" font-size="22">1976</text>
<text transform="translate(402.12,560.5) rotate(-90)" text-anchor="end" font-size="22">1979</text>
<text transform="translate(433.62,560.5) rotate(-90)" text-anchor="end" font-size="22">1982</text>
<text transform="translate(465.12,560.5) rotate(-90)" text-anchor="end" font-size="22">1985</text>
<text transform="translate(496.63,560.5) rotate(-90)" text-anchor="end" font-size="22">1988</text>
<text transform="translate(528.13,560.5) rotate(-90)" text-anchor="end" font-size="22">1991</text>
<text transform="translate(559.63,560.5) rotate(-90)" text-anchor="end" font-size="22">1994</text>
<text transform="translate(591.13,560.5) rotate(-90)" text-anchor="end" font-size="22">1997</text>
<text transform="translate(622.63,560.5) rotate(-90)" text-anchor="end" font-size="22">2000</text>
<text transform="translate(654.14,560.5) rotate(-90)" text-anchor="end" font-size="22">2003</text>
<text transform="translate(685.64,560.5) rotate(-90)" text-anchor="end" font-size="22">2006</text>
<text transform="translate(717.14,560.5) rotate(-90)" text-anchor="end" font-size="22">2009</text>
<text transform="translate(748.64,560.5) rotate(-90)" text-anchor="end" font-size="22">2012</text>
<text transform="translate(780.14,560.5) rotate(-90)" text-anchor="end" font-size="22">2015</text>
<text transform="translate(811.65,560.5) rotate(-90)" text-anchor="end" font-size="22">2018</text>
<text transform="translate(843.15,560.5) rotate(-90)" text-anchor="end" font-size="22">2021</text>
</g>
</svg></body></html>
